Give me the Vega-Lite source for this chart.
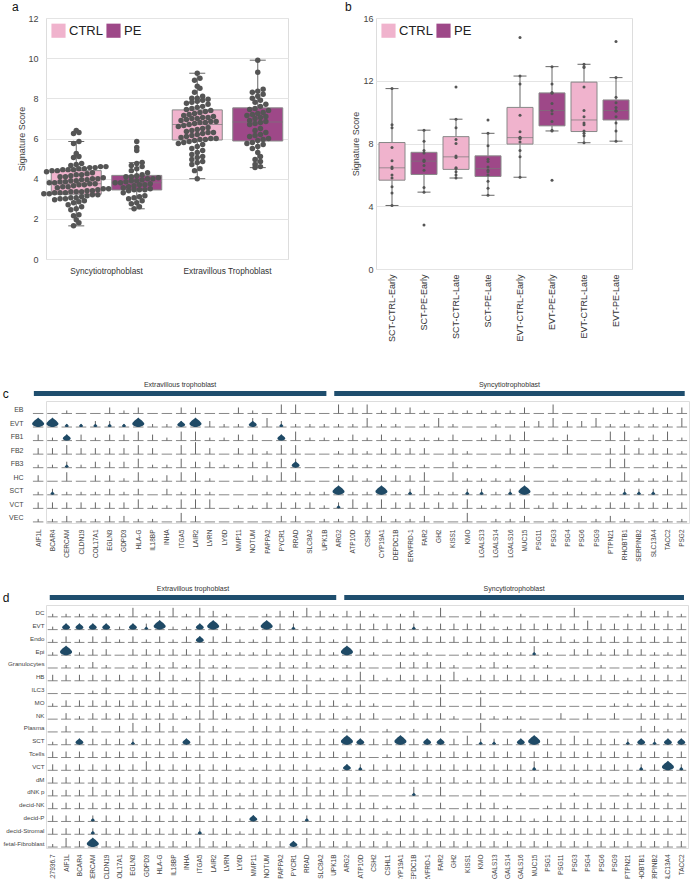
{
"$schema":"https://vega.github.io/schema/vega-lite/v6.json",
"background":"white",
"padding":{"left":2,"top":0,"right":0,"bottom":0},
"config":{"font":"Liberation Sans","view":{"stroke":"#dddddd"},
"axis":{"labelColor":"#444","titleColor":"#444","titleFontWeight":"normal","domain":false,"ticks":false,"gridColor":"#e4e4e4","labelFontSize":9,"titleFontSize":9},
"title":{"fontWeight":"normal","fontSize":12,"anchor":"start","color":"#111"}},
"datasets":{
"a":[
{"cell":"Syncytiotrophoblast","cond":"CTRL","v":6.4},{"cell":"Syncytiotrophoblast","cond":"CTRL","v":6.3},{"cell":"Syncytiotrophoblast","cond":"CTRL","v":6.25},{"cell":"Syncytiotrophoblast","cond":"CTRL","v":5.85},{"cell":"Syncytiotrophoblast","cond":"CTRL","v":5.75},{"cell":"Syncytiotrophoblast","cond":"CTRL","v":5.25},{"cell":"Syncytiotrophoblast","cond":"CTRL","v":5.1},{"cell":"Syncytiotrophoblast","cond":"CTRL","v":5.05},{"cell":"Syncytiotrophoblast","cond":"CTRL","v":4.75},{"cell":"Syncytiotrophoblast","cond":"CTRL","v":4.7},
{"cell":"Syncytiotrophoblast","cond":"CTRL","v":4.65},{"cell":"Syncytiotrophoblast","cond":"CTRL","v":4.6},{"cell":"Syncytiotrophoblast","cond":"CTRL","v":4.6},{"cell":"Syncytiotrophoblast","cond":"CTRL","v":4.55},{"cell":"Syncytiotrophoblast","cond":"CTRL","v":4.55},{"cell":"Syncytiotrophoblast","cond":"CTRL","v":4.5},{"cell":"Syncytiotrophoblast","cond":"CTRL","v":4.5},{"cell":"Syncytiotrophoblast","cond":"CTRL","v":4.45},{"cell":"Syncytiotrophoblast","cond":"CTRL","v":4.45},{"cell":"Syncytiotrophoblast","cond":"CTRL","v":4.45},
{"cell":"Syncytiotrophoblast","cond":"CTRL","v":4.4},{"cell":"Syncytiotrophoblast","cond":"CTRL","v":4.4},{"cell":"Syncytiotrophoblast","cond":"CTRL","v":4.35},{"cell":"Syncytiotrophoblast","cond":"CTRL","v":4.3},{"cell":"Syncytiotrophoblast","cond":"CTRL","v":4.25},{"cell":"Syncytiotrophoblast","cond":"CTRL","v":4.2},{"cell":"Syncytiotrophoblast","cond":"CTRL","v":4.2},{"cell":"Syncytiotrophoblast","cond":"CTRL","v":4.15},{"cell":"Syncytiotrophoblast","cond":"CTRL","v":4.1},{"cell":"Syncytiotrophoblast","cond":"CTRL","v":4.1},
{"cell":"Syncytiotrophoblast","cond":"CTRL","v":4.05},{"cell":"Syncytiotrophoblast","cond":"CTRL","v":4.0},{"cell":"Syncytiotrophoblast","cond":"CTRL","v":4.0},{"cell":"Syncytiotrophoblast","cond":"CTRL","v":3.95},{"cell":"Syncytiotrophoblast","cond":"CTRL","v":3.95},{"cell":"Syncytiotrophoblast","cond":"CTRL","v":3.9},{"cell":"Syncytiotrophoblast","cond":"CTRL","v":3.9},{"cell":"Syncytiotrophoblast","cond":"CTRL","v":3.85},{"cell":"Syncytiotrophoblast","cond":"CTRL","v":3.85},{"cell":"Syncytiotrophoblast","cond":"CTRL","v":3.8},
{"cell":"Syncytiotrophoblast","cond":"CTRL","v":3.8},{"cell":"Syncytiotrophoblast","cond":"CTRL","v":3.75},{"cell":"Syncytiotrophoblast","cond":"CTRL","v":3.75},{"cell":"Syncytiotrophoblast","cond":"CTRL","v":3.7},{"cell":"Syncytiotrophoblast","cond":"CTRL","v":3.7},{"cell":"Syncytiotrophoblast","cond":"CTRL","v":3.65},{"cell":"Syncytiotrophoblast","cond":"CTRL","v":3.6},{"cell":"Syncytiotrophoblast","cond":"CTRL","v":3.6},{"cell":"Syncytiotrophoblast","cond":"CTRL","v":3.55},{"cell":"Syncytiotrophoblast","cond":"CTRL","v":3.5},
{"cell":"Syncytiotrophoblast","cond":"CTRL","v":3.5},{"cell":"Syncytiotrophoblast","cond":"CTRL","v":3.45},{"cell":"Syncytiotrophoblast","cond":"CTRL","v":3.4},{"cell":"Syncytiotrophoblast","cond":"CTRL","v":3.4},{"cell":"Syncytiotrophoblast","cond":"CTRL","v":3.35},{"cell":"Syncytiotrophoblast","cond":"CTRL","v":3.35},{"cell":"Syncytiotrophoblast","cond":"CTRL","v":3.35},{"cell":"Syncytiotrophoblast","cond":"CTRL","v":3.3},{"cell":"Syncytiotrophoblast","cond":"CTRL","v":3.3},{"cell":"Syncytiotrophoblast","cond":"CTRL","v":3.3},
{"cell":"Syncytiotrophoblast","cond":"CTRL","v":3.25},{"cell":"Syncytiotrophoblast","cond":"CTRL","v":3.25},{"cell":"Syncytiotrophoblast","cond":"CTRL","v":3.2},{"cell":"Syncytiotrophoblast","cond":"CTRL","v":3.2},{"cell":"Syncytiotrophoblast","cond":"CTRL","v":3.15},{"cell":"Syncytiotrophoblast","cond":"CTRL","v":3.1},{"cell":"Syncytiotrophoblast","cond":"CTRL","v":3.05},{"cell":"Syncytiotrophoblast","cond":"CTRL","v":3.05},{"cell":"Syncytiotrophoblast","cond":"CTRL","v":3.0},{"cell":"Syncytiotrophoblast","cond":"CTRL","v":3.0},
{"cell":"Syncytiotrophoblast","cond":"CTRL","v":2.95},{"cell":"Syncytiotrophoblast","cond":"CTRL","v":2.9},{"cell":"Syncytiotrophoblast","cond":"CTRL","v":2.85},{"cell":"Syncytiotrophoblast","cond":"CTRL","v":2.8},{"cell":"Syncytiotrophoblast","cond":"CTRL","v":2.7},{"cell":"Syncytiotrophoblast","cond":"CTRL","v":2.6},{"cell":"Syncytiotrophoblast","cond":"CTRL","v":2.5},{"cell":"Syncytiotrophoblast","cond":"CTRL","v":2.45},{"cell":"Syncytiotrophoblast","cond":"CTRL","v":2.2},{"cell":"Syncytiotrophoblast","cond":"CTRL","v":2.15},
{"cell":"Syncytiotrophoblast","cond":"CTRL","v":1.95},{"cell":"Syncytiotrophoblast","cond":"CTRL","v":1.8},{"cell":"Syncytiotrophoblast","cond":"CTRL","v":1.65},
{"cell":"Syncytiotrophoblast","cond":"PE","v":5.85},{"cell":"Syncytiotrophoblast","cond":"PE","v":5.55},{"cell":"Syncytiotrophoblast","cond":"PE","v":5.4},{"cell":"Syncytiotrophoblast","cond":"PE","v":4.8},{"cell":"Syncytiotrophoblast","cond":"PE","v":4.75},{"cell":"Syncytiotrophoblast","cond":"PE","v":4.65},{"cell":"Syncytiotrophoblast","cond":"PE","v":4.6},{"cell":"Syncytiotrophoblast","cond":"PE","v":4.5},{"cell":"Syncytiotrophoblast","cond":"PE","v":4.4},{"cell":"Syncytiotrophoblast","cond":"PE","v":4.3},
{"cell":"Syncytiotrophoblast","cond":"PE","v":4.2},{"cell":"Syncytiotrophoblast","cond":"PE","v":4.15},{"cell":"Syncytiotrophoblast","cond":"PE","v":4.1},{"cell":"Syncytiotrophoblast","cond":"PE","v":4.1},{"cell":"Syncytiotrophoblast","cond":"PE","v":4.05},{"cell":"Syncytiotrophoblast","cond":"PE","v":4.0},{"cell":"Syncytiotrophoblast","cond":"PE","v":4.0},{"cell":"Syncytiotrophoblast","cond":"PE","v":3.95},{"cell":"Syncytiotrophoblast","cond":"PE","v":3.9},{"cell":"Syncytiotrophoblast","cond":"PE","v":3.9},
{"cell":"Syncytiotrophoblast","cond":"PE","v":3.85},{"cell":"Syncytiotrophoblast","cond":"PE","v":3.8},{"cell":"Syncytiotrophoblast","cond":"PE","v":3.8},{"cell":"Syncytiotrophoblast","cond":"PE","v":3.75},{"cell":"Syncytiotrophoblast","cond":"PE","v":3.7},{"cell":"Syncytiotrophoblast","cond":"PE","v":3.7},{"cell":"Syncytiotrophoblast","cond":"PE","v":3.65},{"cell":"Syncytiotrophoblast","cond":"PE","v":3.6},{"cell":"Syncytiotrophoblast","cond":"PE","v":3.55},{"cell":"Syncytiotrophoblast","cond":"PE","v":3.5},
{"cell":"Syncytiotrophoblast","cond":"PE","v":3.45},{"cell":"Syncytiotrophoblast","cond":"PE","v":3.45},{"cell":"Syncytiotrophoblast","cond":"PE","v":3.45},{"cell":"Syncytiotrophoblast","cond":"PE","v":3.4},{"cell":"Syncytiotrophoblast","cond":"PE","v":3.3},{"cell":"Syncytiotrophoblast","cond":"PE","v":3.15},{"cell":"Syncytiotrophoblast","cond":"PE","v":3.1},{"cell":"Syncytiotrophoblast","cond":"PE","v":3.05},{"cell":"Syncytiotrophoblast","cond":"PE","v":3.0},{"cell":"Syncytiotrophoblast","cond":"PE","v":2.9},
{"cell":"Syncytiotrophoblast","cond":"PE","v":2.8},{"cell":"Syncytiotrophoblast","cond":"PE","v":2.75},{"cell":"Syncytiotrophoblast","cond":"PE","v":2.6},{"cell":"Syncytiotrophoblast","cond":"PE","v":2.5},
{"cell":"Extravillous Trophoblast","cond":"CTRL","v":9.25},{"cell":"Extravillous Trophoblast","cond":"CTRL","v":9.0},{"cell":"Extravillous Trophoblast","cond":"CTRL","v":8.9},{"cell":"Extravillous Trophoblast","cond":"CTRL","v":8.6},{"cell":"Extravillous Trophoblast","cond":"CTRL","v":8.5},{"cell":"Extravillous Trophoblast","cond":"CTRL","v":8.3},{"cell":"Extravillous Trophoblast","cond":"CTRL","v":8.1},{"cell":"Extravillous Trophoblast","cond":"CTRL","v":8.0},{"cell":"Extravillous Trophoblast","cond":"CTRL","v":8.0},{"cell":"Extravillous Trophoblast","cond":"CTRL","v":7.95},
{"cell":"Extravillous Trophoblast","cond":"CTRL","v":7.9},{"cell":"Extravillous Trophoblast","cond":"CTRL","v":7.85},{"cell":"Extravillous Trophoblast","cond":"CTRL","v":7.8},{"cell":"Extravillous Trophoblast","cond":"CTRL","v":7.75},{"cell":"Extravillous Trophoblast","cond":"CTRL","v":7.7},{"cell":"Extravillous Trophoblast","cond":"CTRL","v":7.6},{"cell":"Extravillous Trophoblast","cond":"CTRL","v":7.55},{"cell":"Extravillous Trophoblast","cond":"CTRL","v":7.5},{"cell":"Extravillous Trophoblast","cond":"CTRL","v":7.45},{"cell":"Extravillous Trophoblast","cond":"CTRL","v":7.4},
{"cell":"Extravillous Trophoblast","cond":"CTRL","v":7.35},{"cell":"Extravillous Trophoblast","cond":"CTRL","v":7.3},{"cell":"Extravillous Trophoblast","cond":"CTRL","v":7.25},{"cell":"Extravillous Trophoblast","cond":"CTRL","v":7.2},{"cell":"Extravillous Trophoblast","cond":"CTRL","v":7.15},{"cell":"Extravillous Trophoblast","cond":"CTRL","v":7.1},{"cell":"Extravillous Trophoblast","cond":"CTRL","v":7.05},{"cell":"Extravillous Trophoblast","cond":"CTRL","v":7.05},{"cell":"Extravillous Trophoblast","cond":"CTRL","v":7.0},{"cell":"Extravillous Trophoblast","cond":"CTRL","v":7.0},
{"cell":"Extravillous Trophoblast","cond":"CTRL","v":6.95},{"cell":"Extravillous Trophoblast","cond":"CTRL","v":6.9},{"cell":"Extravillous Trophoblast","cond":"CTRL","v":6.85},{"cell":"Extravillous Trophoblast","cond":"CTRL","v":6.85},{"cell":"Extravillous Trophoblast","cond":"CTRL","v":6.8},{"cell":"Extravillous Trophoblast","cond":"CTRL","v":6.8},{"cell":"Extravillous Trophoblast","cond":"CTRL","v":6.75},{"cell":"Extravillous Trophoblast","cond":"CTRL","v":6.7},{"cell":"Extravillous Trophoblast","cond":"CTRL","v":6.65},{"cell":"Extravillous Trophoblast","cond":"CTRL","v":6.6},
{"cell":"Extravillous Trophoblast","cond":"CTRL","v":6.55},{"cell":"Extravillous Trophoblast","cond":"CTRL","v":6.5},{"cell":"Extravillous Trophoblast","cond":"CTRL","v":6.45},{"cell":"Extravillous Trophoblast","cond":"CTRL","v":6.4},{"cell":"Extravillous Trophoblast","cond":"CTRL","v":6.35},{"cell":"Extravillous Trophoblast","cond":"CTRL","v":6.3},{"cell":"Extravillous Trophoblast","cond":"CTRL","v":6.3},{"cell":"Extravillous Trophoblast","cond":"CTRL","v":6.25},{"cell":"Extravillous Trophoblast","cond":"CTRL","v":6.2},{"cell":"Extravillous Trophoblast","cond":"CTRL","v":6.15},
{"cell":"Extravillous Trophoblast","cond":"CTRL","v":6.1},{"cell":"Extravillous Trophoblast","cond":"CTRL","v":6.05},{"cell":"Extravillous Trophoblast","cond":"CTRL","v":6.0},{"cell":"Extravillous Trophoblast","cond":"CTRL","v":6.0},{"cell":"Extravillous Trophoblast","cond":"CTRL","v":5.95},{"cell":"Extravillous Trophoblast","cond":"CTRL","v":5.95},{"cell":"Extravillous Trophoblast","cond":"CTRL","v":5.9},{"cell":"Extravillous Trophoblast","cond":"CTRL","v":5.85},{"cell":"Extravillous Trophoblast","cond":"CTRL","v":5.8},{"cell":"Extravillous Trophoblast","cond":"CTRL","v":5.75},
{"cell":"Extravillous Trophoblast","cond":"CTRL","v":5.7},{"cell":"Extravillous Trophoblast","cond":"CTRL","v":5.6},{"cell":"Extravillous Trophoblast","cond":"CTRL","v":5.5},{"cell":"Extravillous Trophoblast","cond":"CTRL","v":5.4},{"cell":"Extravillous Trophoblast","cond":"CTRL","v":5.3},{"cell":"Extravillous Trophoblast","cond":"CTRL","v":5.2},{"cell":"Extravillous Trophoblast","cond":"CTRL","v":5.1},{"cell":"Extravillous Trophoblast","cond":"CTRL","v":5.05},{"cell":"Extravillous Trophoblast","cond":"CTRL","v":4.95},{"cell":"Extravillous Trophoblast","cond":"CTRL","v":4.85},
{"cell":"Extravillous Trophoblast","cond":"CTRL","v":4.8},{"cell":"Extravillous Trophoblast","cond":"CTRL","v":4.7},{"cell":"Extravillous Trophoblast","cond":"CTRL","v":4.5},{"cell":"Extravillous Trophoblast","cond":"CTRL","v":4.4},{"cell":"Extravillous Trophoblast","cond":"CTRL","v":4.0},
{"cell":"Extravillous Trophoblast","cond":"PE","v":9.9},{"cell":"Extravillous Trophoblast","cond":"PE","v":9.3},{"cell":"Extravillous Trophoblast","cond":"PE","v":8.45},{"cell":"Extravillous Trophoblast","cond":"PE","v":8.35},{"cell":"Extravillous Trophoblast","cond":"PE","v":8.3},{"cell":"Extravillous Trophoblast","cond":"PE","v":8.2},{"cell":"Extravillous Trophoblast","cond":"PE","v":8.1},{"cell":"Extravillous Trophoblast","cond":"PE","v":8.0},{"cell":"Extravillous Trophoblast","cond":"PE","v":7.9},{"cell":"Extravillous Trophoblast","cond":"PE","v":7.8},
{"cell":"Extravillous Trophoblast","cond":"PE","v":7.7},{"cell":"Extravillous Trophoblast","cond":"PE","v":7.6},{"cell":"Extravillous Trophoblast","cond":"PE","v":7.5},{"cell":"Extravillous Trophoblast","cond":"PE","v":7.45},{"cell":"Extravillous Trophoblast","cond":"PE","v":7.4},{"cell":"Extravillous Trophoblast","cond":"PE","v":7.3},{"cell":"Extravillous Trophoblast","cond":"PE","v":7.25},{"cell":"Extravillous Trophoblast","cond":"PE","v":7.2},{"cell":"Extravillous Trophoblast","cond":"PE","v":7.15},{"cell":"Extravillous Trophoblast","cond":"PE","v":7.1},
{"cell":"Extravillous Trophoblast","cond":"PE","v":7.05},{"cell":"Extravillous Trophoblast","cond":"PE","v":7.0},{"cell":"Extravillous Trophoblast","cond":"PE","v":6.9},{"cell":"Extravillous Trophoblast","cond":"PE","v":6.85},{"cell":"Extravillous Trophoblast","cond":"PE","v":6.8},{"cell":"Extravillous Trophoblast","cond":"PE","v":6.75},{"cell":"Extravillous Trophoblast","cond":"PE","v":6.7},{"cell":"Extravillous Trophoblast","cond":"PE","v":6.5},{"cell":"Extravillous Trophoblast","cond":"PE","v":6.4},{"cell":"Extravillous Trophoblast","cond":"PE","v":6.3},
{"cell":"Extravillous Trophoblast","cond":"PE","v":6.2},{"cell":"Extravillous Trophoblast","cond":"PE","v":6.15},{"cell":"Extravillous Trophoblast","cond":"PE","v":6.1},{"cell":"Extravillous Trophoblast","cond":"PE","v":6.0},{"cell":"Extravillous Trophoblast","cond":"PE","v":5.95},{"cell":"Extravillous Trophoblast","cond":"PE","v":5.9},{"cell":"Extravillous Trophoblast","cond":"PE","v":5.8},{"cell":"Extravillous Trophoblast","cond":"PE","v":5.75},{"cell":"Extravillous Trophoblast","cond":"PE","v":5.7},{"cell":"Extravillous Trophoblast","cond":"PE","v":5.6},
{"cell":"Extravillous Trophoblast","cond":"PE","v":5.5},{"cell":"Extravillous Trophoblast","cond":"PE","v":5.3},{"cell":"Extravillous Trophoblast","cond":"PE","v":5.1},{"cell":"Extravillous Trophoblast","cond":"PE","v":4.95},{"cell":"Extravillous Trophoblast","cond":"PE","v":4.85},{"cell":"Extravillous Trophoblast","cond":"PE","v":4.7},{"cell":"Extravillous Trophoblast","cond":"PE","v":4.6},{"cell":"Extravillous Trophoblast","cond":"PE","v":4.55}
],
"b":[
{"g":"SCT-CTRL-Early","cond":"CTRL","v":11.5},{"g":"SCT-CTRL-Early","cond":"CTRL","v":9.2},{"g":"SCT-CTRL-Early","cond":"CTRL","v":9.0},{"g":"SCT-CTRL-Early","cond":"CTRL","v":7.75},{"g":"SCT-CTRL-Early","cond":"CTRL","v":6.9},{"g":"SCT-CTRL-Early","cond":"CTRL","v":6.5},{"g":"SCT-CTRL-Early","cond":"CTRL","v":6.4},{"g":"SCT-CTRL-Early","cond":"CTRL","v":6.0},{"g":"SCT-CTRL-Early","cond":"CTRL","v":5.8},{"g":"SCT-CTRL-Early","cond":"CTRL","v":5.25},{"g":"SCT-CTRL-Early","cond":"CTRL","v":4.85},{"g":"SCT-CTRL-Early","cond":"CTRL","v":4.05},
{"g":"SCT-PE-Early","cond":"PE","v":8.85},{"g":"SCT-PE-Early","cond":"PE","v":8.15},{"g":"SCT-PE-Early","cond":"PE","v":7.55},{"g":"SCT-PE-Early","cond":"PE","v":7.4},{"g":"SCT-PE-Early","cond":"PE","v":6.95},{"g":"SCT-PE-Early","cond":"PE","v":6.9},{"g":"SCT-PE-Early","cond":"PE","v":6.85},{"g":"SCT-PE-Early","cond":"PE","v":6.6},{"g":"SCT-PE-Early","cond":"PE","v":6.3},{"g":"SCT-PE-Early","cond":"PE","v":5.2},{"g":"SCT-PE-Early","cond":"PE","v":4.9},{"g":"SCT-PE-Early","cond":"PE","v":2.8},
{"g":"SCT-CTRL-Late","cond":"CTRL","v":11.6},{"g":"SCT-CTRL-Late","cond":"CTRL","v":9.55},{"g":"SCT-CTRL-Late","cond":"CTRL","v":9.0},{"g":"SCT-CTRL-Late","cond":"CTRL","v":8.25},{"g":"SCT-CTRL-Late","cond":"CTRL","v":8.0},{"g":"SCT-CTRL-Late","cond":"CTRL","v":7.2},{"g":"SCT-CTRL-Late","cond":"CTRL","v":7.1},{"g":"SCT-CTRL-Late","cond":"CTRL","v":6.45},{"g":"SCT-CTRL-Late","cond":"CTRL","v":6.4},{"g":"SCT-CTRL-Late","cond":"CTRL","v":6.2},{"g":"SCT-CTRL-Late","cond":"CTRL","v":6.0},{"g":"SCT-CTRL-Late","cond":"CTRL","v":5.8},
{"g":"SCT-PE-Late","cond":"PE","v":9.5},{"g":"SCT-PE-Late","cond":"PE","v":8.65},{"g":"SCT-PE-Late","cond":"PE","v":7.85},{"g":"SCT-PE-Late","cond":"PE","v":7.0},{"g":"SCT-PE-Late","cond":"PE","v":6.85},{"g":"SCT-PE-Late","cond":"PE","v":6.5},{"g":"SCT-PE-Late","cond":"PE","v":6.3},{"g":"SCT-PE-Late","cond":"PE","v":6.2},{"g":"SCT-PE-Late","cond":"PE","v":6.0},{"g":"SCT-PE-Late","cond":"PE","v":5.6},{"g":"SCT-PE-Late","cond":"PE","v":5.15},{"g":"SCT-PE-Late","cond":"PE","v":4.7},
{"g":"EVT-CTRL-Early","cond":"CTRL","v":14.75},{"g":"EVT-CTRL-Early","cond":"CTRL","v":12.3},{"g":"EVT-CTRL-Early","cond":"CTRL","v":11.8},{"g":"EVT-CTRL-Early","cond":"CTRL","v":9.8},{"g":"EVT-CTRL-Early","cond":"CTRL","v":8.75},{"g":"EVT-CTRL-Early","cond":"CTRL","v":8.4},{"g":"EVT-CTRL-Early","cond":"CTRL","v":8.35},{"g":"EVT-CTRL-Early","cond":"CTRL","v":8.3},{"g":"EVT-CTRL-Early","cond":"CTRL","v":8.1},{"g":"EVT-CTRL-Early","cond":"CTRL","v":7.55},{"g":"EVT-CTRL-Early","cond":"CTRL","v":7.15},{"g":"EVT-CTRL-Early","cond":"CTRL","v":5.85},
{"g":"EVT-PE-Early","cond":"PE","v":12.9},{"g":"EVT-PE-Early","cond":"PE","v":11.8},{"g":"EVT-PE-Early","cond":"PE","v":11.25},{"g":"EVT-PE-Early","cond":"PE","v":11.2},{"g":"EVT-PE-Early","cond":"PE","v":10.55},{"g":"EVT-PE-Early","cond":"PE","v":10.1},{"g":"EVT-PE-Early","cond":"PE","v":9.9},{"g":"EVT-PE-Early","cond":"PE","v":9.4},{"g":"EVT-PE-Early","cond":"PE","v":8.85},{"g":"EVT-PE-Early","cond":"PE","v":8.8},{"g":"EVT-PE-Early","cond":"PE","v":5.65},
{"g":"EVT-CTRL-Late","cond":"CTRL","v":13.05},{"g":"EVT-CTRL-Late","cond":"CTRL","v":12.9},{"g":"EVT-CTRL-Late","cond":"CTRL","v":12.85},{"g":"EVT-CTRL-Late","cond":"CTRL","v":11.6},{"g":"EVT-CTRL-Late","cond":"CTRL","v":10.1},{"g":"EVT-CTRL-Late","cond":"CTRL","v":9.7},{"g":"EVT-CTRL-Late","cond":"CTRL","v":9.3},{"g":"EVT-CTRL-Late","cond":"CTRL","v":9.2},{"g":"EVT-CTRL-Late","cond":"CTRL","v":8.8},{"g":"EVT-CTRL-Late","cond":"CTRL","v":8.65},{"g":"EVT-CTRL-Late","cond":"CTRL","v":8.5},{"g":"EVT-CTRL-Late","cond":"CTRL","v":8.05},
{"g":"EVT-PE-Late","cond":"PE","v":14.5},{"g":"EVT-PE-Late","cond":"PE","v":12.2},{"g":"EVT-PE-Late","cond":"PE","v":10.95},{"g":"EVT-PE-Late","cond":"PE","v":10.6},{"g":"EVT-PE-Late","cond":"PE","v":10.3},{"g":"EVT-PE-Late","cond":"PE","v":10.1},{"g":"EVT-PE-Late","cond":"PE","v":10.05},{"g":"EVT-PE-Late","cond":"PE","v":9.7},{"g":"EVT-PE-Late","cond":"PE","v":9.3},{"g":"EVT-PE-Late","cond":"PE","v":8.8},{"g":"EVT-PE-Late","cond":"PE","v":8.15}
],
"chead":[{"label":"Extravillous trophoblast","start":-0.3,"end":20.15},{"label":"Syncytiotrophoblast","start":20.7,"end":45.2}],
"dhead":[{"label":"Extravillous trophoblast","start":-0.22,"end":21.2},{"label":"Syncytiotrophoblast","start":21.8,"end":47.2}],
"c":[
{"g":"AIF1L","c":"EB","h":0},{"g":"BCAR4","c":"EB","h":0},{"g":"CERCAM","c":"EB","h":1},{"g":"CLDN19","c":"EB","h":0},{"g":"COL17A1","c":"EB","h":0},{"g":"EGLN3","c":"EB","h":2},{"g":"GDPD3","c":"EB","h":1},{"g":"HLA-G","c":"EB","h":2},{"g":"IL18BP","c":"EB","h":0},{"g":"INHA","c":"EB","h":0},{"g":"ITGA5","c":"EB","h":2},{"g":"LAIR2","c":"EB","h":2},{"g":"LVRN","c":"EB","h":0},{"g":"LY6D","c":"EB","h":0},{"g":"MMP11","c":"EB","h":2},{"g":"NOTUM","c":"EB","h":1},{"g":"PAPPA2","c":"EB","h":0},{"g":"PYCR1","c":"EB","h":3},{"g":"RRAD","c":"EB","h":3},{"g":"SLC8A2","c":"EB","h":0},{"g":"UPK1B","c":"EB","h":0},{"g":"ARG2","c":"EB","h":3},{"g":"ATP10D","c":"EB","h":2},{"g":"CSH2","c":"EB","h":3},{"g":"CYP19A1","c":"EB","h":1},{"g":"DEPDC1B","c":"EB","h":2},{"g":"ERVFRD-1","c":"EB","h":2},{"g":"FAR2","c":"EB","h":1},{"g":"GH2","c":"EB","h":0},{"g":"KISS1","c":"EB","h":1},{"g":"KMO","c":"EB","h":1},{"g":"LGALS13","c":"EB","h":1},{"g":"LGALS14","c":"EB","h":1},{"g":"LGALS16","c":"EB","h":1},{"g":"MUC15","c":"EB","h":2},{"g":"PSG11","c":"EB","h":0},{"g":"PSG3","c":"EB","h":3},{"g":"PSG4","c":"EB","h":0},{"g":"PSG6","c":"EB","h":0},{"g":"PSG9","c":"EB","h":0},{"g":"PTPN21","c":"EB","h":0},{"g":"RHOBTB1","c":"EB","h":1},{"g":"SERPINB2","c":"EB","h":1},{"g":"SLC13A4","c":"EB","h":2},{"g":"TACC2","c":"EB","h":2},{"g":"PSG2","c":"EB","h":2},
{"g":"AIF1L","c":"EVT","h":1,"b":3},{"g":"BCAR4","c":"EVT","h":1,"b":3},{"g":"CERCAM","c":"EVT","h":1,"b":1},{"g":"CLDN19","c":"EVT","h":1,"b":1},{"g":"COL17A1","c":"EVT","h":2,"b":1},{"g":"EGLN3","c":"EVT","h":2,"b":1},{"g":"GDPD3","c":"EVT","h":1,"b":1},{"g":"HLA-G","c":"EVT","h":3,"b":3},{"g":"IL18BP","c":"EVT","h":1},{"g":"INHA","c":"EVT","h":1},{"g":"ITGA5","c":"EVT","h":2,"b":2},{"g":"LAIR2","c":"EVT","h":3,"b":3},{"g":"LVRN","c":"EVT","h":2},{"g":"LY6D","c":"EVT","h":1},{"g":"MMP11","c":"EVT","h":1},{"g":"NOTUM","c":"EVT","h":3,"b":2},{"g":"PAPPA2","c":"EVT","h":3},{"g":"PYCR1","c":"EVT","h":2,"b":1},{"g":"RRAD","c":"EVT","h":1},{"g":"SLC8A2","c":"EVT","h":1},{"g":"UPK1B","c":"EVT","h":1},{"g":"ARG2","c":"EVT","h":1},{"g":"ATP10D","c":"EVT","h":1},{"g":"CSH2","c":"EVT","h":3},{"g":"CYP19A1","c":"EVT","h":1},{"g":"DEPDC1B","c":"EVT","h":1},{"g":"ERVFRD-1","c":"EVT","h":0},{"g":"FAR2","c":"EVT","h":1},{"g":"GH2","c":"EVT","h":3},{"g":"KISS1","c":"EVT","h":1},{"g":"KMO","c":"EVT","h":0},{"g":"LGALS13","c":"EVT","h":0},{"g":"LGALS14","c":"EVT","h":1},{"g":"LGALS16","c":"EVT","h":0},{"g":"MUC15","c":"EVT","h":2},{"g":"PSG11","c":"EVT","h":2},{"g":"PSG3","c":"EVT","h":3},{"g":"PSG4","c":"EVT","h":2},{"g":"PSG6","c":"EVT","h":2},{"g":"PSG9","c":"EVT","h":3},{"g":"PTPN21","c":"EVT","h":1},{"g":"RHOBTB1","c":"EVT","h":1},{"g":"SERPINB2","c":"EVT","h":1},{"g":"SLC13A4","c":"EVT","h":1},{"g":"TACC2","c":"EVT","h":1},{"g":"PSG2","c":"EVT","h":3},
{"g":"AIF1L","c":"FB1","h":2},{"g":"BCAR4","c":"FB1","h":1},{"g":"CERCAM","c":"FB1","h":2,"b":2},{"g":"CLDN19","c":"FB1","h":2},{"g":"COL17A1","c":"FB1","h":1},{"g":"EGLN3","c":"FB1","h":2},{"g":"GDPD3","c":"FB1","h":2},{"g":"HLA-G","c":"FB1","h":3},{"g":"IL18BP","c":"FB1","h":2},{"g":"INHA","c":"FB1","h":1},{"g":"ITGA5","c":"FB1","h":3},{"g":"LAIR2","c":"FB1","h":3},{"g":"LVRN","c":"FB1","h":1},{"g":"LY6D","c":"FB1","h":1},{"g":"MMP11","c":"FB1","h":2},{"g":"NOTUM","c":"FB1","h":2},{"g":"PAPPA2","c":"FB1","h":0},{"g":"PYCR1","c":"FB1","h":2,"b":2},{"g":"RRAD","c":"FB1","h":3},{"g":"SLC8A2","c":"FB1","h":1},{"g":"UPK1B","c":"FB1","h":1},{"g":"ARG2","c":"FB1","h":1},{"g":"ATP10D","c":"FB1","h":2},{"g":"CSH2","c":"FB1","h":1},{"g":"CYP19A1","c":"FB1","h":2},{"g":"DEPDC1B","c":"FB1","h":1},{"g":"ERVFRD-1","c":"FB1","h":1},{"g":"FAR2","c":"FB1","h":1},{"g":"GH2","c":"FB1","h":1},{"g":"KISS1","c":"FB1","h":2},{"g":"KMO","c":"FB1","h":0},{"g":"LGALS13","c":"FB1","h":1},{"g":"LGALS14","c":"FB1","h":2},{"g":"LGALS16","c":"FB1","h":2},{"g":"MUC15","c":"FB1","h":3},{"g":"PSG11","c":"FB1","h":0},{"g":"PSG3","c":"FB1","h":1},{"g":"PSG4","c":"FB1","h":2},{"g":"PSG6","c":"FB1","h":0},{"g":"PSG9","c":"FB1","h":0},{"g":"PTPN21","c":"FB1","h":3},{"g":"RHOBTB1","c":"FB1","h":3},{"g":"SERPINB2","c":"FB1","h":1},{"g":"SLC13A4","c":"FB1","h":2},{"g":"TACC2","c":"FB1","h":3},{"g":"PSG2","c":"FB1","h":1},
{"g":"AIF1L","c":"FB2","h":2},{"g":"BCAR4","c":"FB2","h":2},{"g":"CERCAM","c":"FB2","h":3},{"g":"CLDN19","c":"FB2","h":2},{"g":"COL17A1","c":"FB2","h":2},{"g":"EGLN3","c":"FB2","h":2},{"g":"GDPD3","c":"FB2","h":2},{"g":"HLA-G","c":"FB2","h":3},{"g":"IL18BP","c":"FB2","h":2},{"g":"INHA","c":"FB2","h":0},{"g":"ITGA5","c":"FB2","h":3},{"g":"LAIR2","c":"FB2","h":4},{"g":"LVRN","c":"FB2","h":2},{"g":"LY6D","c":"FB2","h":0},{"g":"MMP11","c":"FB2","h":2},{"g":"NOTUM","c":"FB2","h":2},{"g":"PAPPA2","c":"FB2","h":1},{"g":"PYCR1","c":"FB2","h":3},{"g":"RRAD","c":"FB2","h":3},{"g":"SLC8A2","c":"FB2","h":0},{"g":"UPK1B","c":"FB2","h":0},{"g":"ARG2","c":"FB2","h":1},{"g":"ATP10D","c":"FB2","h":2},{"g":"CSH2","c":"FB2","h":1},{"g":"CYP19A1","c":"FB2","h":2},{"g":"DEPDC1B","c":"FB2","h":2},{"g":"ERVFRD-1","c":"FB2","h":2},{"g":"FAR2","c":"FB2","h":2},{"g":"GH2","c":"FB2","h":0},{"g":"KISS1","c":"FB2","h":2},{"g":"KMO","c":"FB2","h":1},{"g":"LGALS13","c":"FB2","h":0},{"g":"LGALS14","c":"FB2","h":0},{"g":"LGALS16","c":"FB2","h":2},{"g":"MUC15","c":"FB2","h":2},{"g":"PSG11","c":"FB2","h":0},{"g":"PSG3","c":"FB2","h":0},{"g":"PSG4","c":"FB2","h":3},{"g":"PSG6","c":"FB2","h":0},{"g":"PSG9","c":"FB2","h":0},{"g":"PTPN21","c":"FB2","h":2},{"g":"RHOBTB1","c":"FB2","h":3},{"g":"SERPINB2","c":"FB2","h":2},{"g":"SLC13A4","c":"FB2","h":2},{"g":"TACC2","c":"FB2","h":2},{"g":"PSG2","c":"FB2","h":1},
{"g":"AIF1L","c":"FB3","h":1},{"g":"BCAR4","c":"FB3","h":1},{"g":"CERCAM","c":"FB3","h":2,"b":1},{"g":"CLDN19","c":"FB3","h":1},{"g":"COL17A1","c":"FB3","h":2},{"g":"EGLN3","c":"FB3","h":2},{"g":"GDPD3","c":"FB3","h":2},{"g":"HLA-G","c":"FB3","h":3},{"g":"IL18BP","c":"FB3","h":1},{"g":"INHA","c":"FB3","h":1},{"g":"ITGA5","c":"FB3","h":3},{"g":"LAIR2","c":"FB3","h":2},{"g":"LVRN","c":"FB3","h":2},{"g":"LY6D","c":"FB3","h":1},{"g":"MMP11","c":"FB3","h":1},{"g":"NOTUM","c":"FB3","h":2},{"g":"PAPPA2","c":"FB3","h":2},{"g":"PYCR1","c":"FB3","h":3},{"g":"RRAD","c":"FB3","h":3,"b":2},{"g":"SLC8A2","c":"FB3","h":0},{"g":"UPK1B","c":"FB3","h":0},{"g":"ARG2","c":"FB3","h":1},{"g":"ATP10D","c":"FB3","h":1},{"g":"CSH2","c":"FB3","h":1},{"g":"CYP19A1","c":"FB3","h":1},{"g":"DEPDC1B","c":"FB3","h":1},{"g":"ERVFRD-1","c":"FB3","h":0},{"g":"FAR2","c":"FB3","h":1},{"g":"GH2","c":"FB3","h":0},{"g":"KISS1","c":"FB3","h":2},{"g":"KMO","c":"FB3","h":1},{"g":"LGALS13","c":"FB3","h":0},{"g":"LGALS14","c":"FB3","h":1},{"g":"LGALS16","c":"FB3","h":0},{"g":"MUC15","c":"FB3","h":2},{"g":"PSG11","c":"FB3","h":0},{"g":"PSG3","c":"FB3","h":1},{"g":"PSG4","c":"FB3","h":0},{"g":"PSG6","c":"FB3","h":0},{"g":"PSG9","c":"FB3","h":0},{"g":"PTPN21","c":"FB3","h":3},{"g":"RHOBTB1","c":"FB3","h":3},{"g":"SERPINB2","c":"FB3","h":0},{"g":"SLC13A4","c":"FB3","h":1},{"g":"TACC2","c":"FB3","h":2},{"g":"PSG2","c":"FB3","h":1},
{"g":"AIF1L","c":"HC","h":2},{"g":"BCAR4","c":"HC","h":0},{"g":"CERCAM","c":"HC","h":3},{"g":"CLDN19","c":"HC","h":0},{"g":"COL17A1","c":"HC","h":2},{"g":"EGLN3","c":"HC","h":2},{"g":"GDPD3","c":"HC","h":1},{"g":"HLA-G","c":"HC","h":3},{"g":"IL18BP","c":"HC","h":1},{"g":"INHA","c":"HC","h":2},{"g":"ITGA5","c":"HC","h":3},{"g":"LAIR2","c":"HC","h":3},{"g":"LVRN","c":"HC","h":1},{"g":"LY6D","c":"HC","h":0},{"g":"MMP11","c":"HC","h":0},{"g":"NOTUM","c":"HC","h":2},{"g":"PAPPA2","c":"HC","h":2},{"g":"PYCR1","c":"HC","h":3},{"g":"RRAD","c":"HC","h":3},{"g":"SLC8A2","c":"HC","h":0},{"g":"UPK1B","c":"HC","h":0},{"g":"ARG2","c":"HC","h":2},{"g":"ATP10D","c":"HC","h":2},{"g":"CSH2","c":"HC","h":1},{"g":"CYP19A1","c":"HC","h":2},{"g":"DEPDC1B","c":"HC","h":2},{"g":"ERVFRD-1","c":"HC","h":2},{"g":"FAR2","c":"HC","h":3},{"g":"GH2","c":"HC","h":0},{"g":"KISS1","c":"HC","h":3},{"g":"KMO","c":"HC","h":1},{"g":"LGALS13","c":"HC","h":1},{"g":"LGALS14","c":"HC","h":1},{"g":"LGALS16","c":"HC","h":1},{"g":"MUC15","c":"HC","h":2},{"g":"PSG11","c":"HC","h":0},{"g":"PSG3","c":"HC","h":0},{"g":"PSG4","c":"HC","h":1},{"g":"PSG6","c":"HC","h":0},{"g":"PSG9","c":"HC","h":1},{"g":"PTPN21","c":"HC","h":1},{"g":"RHOBTB1","c":"HC","h":3},{"g":"SERPINB2","c":"HC","h":1},{"g":"SLC13A4","c":"HC","h":1},{"g":"TACC2","c":"HC","h":2},{"g":"PSG2","c":"HC","h":3},
{"g":"AIF1L","c":"SCT","h":1},{"g":"BCAR4","c":"SCT","h":2,"b":1},{"g":"CERCAM","c":"SCT","h":1},{"g":"CLDN19","c":"SCT","h":1},{"g":"COL17A1","c":"SCT","h":1},{"g":"EGLN3","c":"SCT","h":2},{"g":"GDPD3","c":"SCT","h":1},{"g":"HLA-G","c":"SCT","h":2},{"g":"IL18BP","c":"SCT","h":0},{"g":"INHA","c":"SCT","h":2},{"g":"ITGA5","c":"SCT","h":1},{"g":"LAIR2","c":"SCT","h":2},{"g":"LVRN","c":"SCT","h":1},{"g":"LY6D","c":"SCT","h":0},{"g":"MMP11","c":"SCT","h":0},{"g":"NOTUM","c":"SCT","h":0},{"g":"PAPPA2","c":"SCT","h":1},{"g":"PYCR1","c":"SCT","h":1},{"g":"RRAD","c":"SCT","h":1},{"g":"SLC8A2","c":"SCT","h":1},{"g":"UPK1B","c":"SCT","h":1},{"g":"ARG2","c":"SCT","h":2,"b":3},{"g":"ATP10D","c":"SCT","h":1},{"g":"CSH2","c":"SCT","h":1},{"g":"CYP19A1","c":"SCT","h":2,"b":3},{"g":"DEPDC1B","c":"SCT","h":1},{"g":"ERVFRD-1","c":"SCT","h":2,"b":1},{"g":"FAR2","c":"SCT","h":3},{"g":"GH2","c":"SCT","h":1},{"g":"KISS1","c":"SCT","h":1},{"g":"KMO","c":"SCT","h":2,"b":1},{"g":"LGALS13","c":"SCT","h":2,"b":1},{"g":"LGALS14","c":"SCT","h":1},{"g":"LGALS16","c":"SCT","h":2,"b":1},{"g":"MUC15","c":"SCT","h":2,"b":3},{"g":"PSG11","c":"SCT","h":0},{"g":"PSG3","c":"SCT","h":1},{"g":"PSG4","c":"SCT","h":1},{"g":"PSG6","c":"SCT","h":1},{"g":"PSG9","c":"SCT","h":1},{"g":"PTPN21","c":"SCT","h":1},{"g":"RHOBTB1","c":"SCT","h":2,"b":1},{"g":"SERPINB2","c":"SCT","h":2,"b":1},{"g":"SLC13A4","c":"SCT","h":2,"b":1},{"g":"TACC2","c":"SCT","h":2},{"g":"PSG2","c":"SCT","h":2},
{"g":"AIF1L","c":"VCT","h":2},{"g":"BCAR4","c":"VCT","h":2},{"g":"CERCAM","c":"VCT","h":2},{"g":"CLDN19","c":"VCT","h":2},{"g":"COL17A1","c":"VCT","h":2},{"g":"EGLN3","c":"VCT","h":2},{"g":"GDPD3","c":"VCT","h":2},{"g":"HLA-G","c":"VCT","h":3},{"g":"IL18BP","c":"VCT","h":1},{"g":"INHA","c":"VCT","h":1},{"g":"ITGA5","c":"VCT","h":3},{"g":"LAIR2","c":"VCT","h":3},{"g":"LVRN","c":"VCT","h":3},{"g":"LY6D","c":"VCT","h":0},{"g":"MMP11","c":"VCT","h":1},{"g":"NOTUM","c":"VCT","h":1},{"g":"PAPPA2","c":"VCT","h":2},{"g":"PYCR1","c":"VCT","h":2},{"g":"RRAD","c":"VCT","h":2},{"g":"SLC8A2","c":"VCT","h":2},{"g":"UPK1B","c":"VCT","h":1},{"g":"ARG2","c":"VCT","h":2,"b":1},{"g":"ATP10D","c":"VCT","h":3},{"g":"CSH2","c":"VCT","h":2},{"g":"CYP19A1","c":"VCT","h":3},{"g":"DEPDC1B","c":"VCT","h":2},{"g":"ERVFRD-1","c":"VCT","h":2},{"g":"FAR2","c":"VCT","h":2},{"g":"GH2","c":"VCT","h":2},{"g":"KISS1","c":"VCT","h":2},{"g":"KMO","c":"VCT","h":3},{"g":"LGALS13","c":"VCT","h":1},{"g":"LGALS14","c":"VCT","h":1},{"g":"LGALS16","c":"VCT","h":2},{"g":"MUC15","c":"VCT","h":3},{"g":"PSG11","c":"VCT","h":1},{"g":"PSG3","c":"VCT","h":2},{"g":"PSG4","c":"VCT","h":2},{"g":"PSG6","c":"VCT","h":1},{"g":"PSG9","c":"VCT","h":1},{"g":"PTPN21","c":"VCT","h":2},{"g":"RHOBTB1","c":"VCT","h":2},{"g":"SERPINB2","c":"VCT","h":2},{"g":"SLC13A4","c":"VCT","h":2},{"g":"TACC2","c":"VCT","h":2},{"g":"PSG2","c":"VCT","h":2},
{"g":"AIF1L","c":"VEC","h":1},{"g":"BCAR4","c":"VEC","h":1},{"g":"CERCAM","c":"VEC","h":2},{"g":"CLDN19","c":"VEC","h":1},{"g":"COL17A1","c":"VEC","h":1},{"g":"EGLN3","c":"VEC","h":2},{"g":"GDPD3","c":"VEC","h":2},{"g":"HLA-G","c":"VEC","h":1},{"g":"IL18BP","c":"VEC","h":1},{"g":"INHA","c":"VEC","h":0},{"g":"ITGA5","c":"VEC","h":3},{"g":"LAIR2","c":"VEC","h":2},{"g":"LVRN","c":"VEC","h":0},{"g":"LY6D","c":"VEC","h":0},{"g":"MMP11","c":"VEC","h":0},{"g":"NOTUM","c":"VEC","h":0},{"g":"PAPPA2","c":"VEC","h":0},{"g":"PYCR1","c":"VEC","h":2},{"g":"RRAD","c":"VEC","h":2},{"g":"SLC8A2","c":"VEC","h":0},{"g":"UPK1B","c":"VEC","h":1},{"g":"ARG2","c":"VEC","h":1},{"g":"ATP10D","c":"VEC","h":2},{"g":"CSH2","c":"VEC","h":2},{"g":"CYP19A1","c":"VEC","h":2},{"g":"DEPDC1B","c":"VEC","h":1},{"g":"ERVFRD-1","c":"VEC","h":1},{"g":"FAR2","c":"VEC","h":2},{"g":"GH2","c":"VEC","h":0},{"g":"KISS1","c":"VEC","h":0},{"g":"KMO","c":"VEC","h":3},{"g":"LGALS13","c":"VEC","h":0},{"g":"LGALS14","c":"VEC","h":1},{"g":"LGALS16","c":"VEC","h":1},{"g":"MUC15","c":"VEC","h":2},{"g":"PSG11","c":"VEC","h":0},{"g":"PSG3","c":"VEC","h":1},{"g":"PSG4","c":"VEC","h":1},{"g":"PSG6","c":"VEC","h":0},{"g":"PSG9","c":"VEC","h":1},{"g":"PTPN21","c":"VEC","h":2},{"g":"RHOBTB1","c":"VEC","h":1},{"g":"SERPINB2","c":"VEC","h":0},{"g":"SLC13A4","c":"VEC","h":1},{"g":"TACC2","c":"VEC","h":1},{"g":"PSG2","c":"VEC","h":1}
],
"d":[
{"g":"AF127936.7","c":"DC","h":1},{"g":"AIF1L","c":"DC","h":1},{"g":"BCAR4","c":"DC","h":1},{"g":"CERCAM","c":"DC","h":1},{"g":"CLDN19","c":"DC","h":1},{"g":"COL17A1","c":"DC","h":1},{"g":"EGLN3","c":"DC","h":3},{"g":"GDPD3","c":"DC","h":1},{"g":"HLA-G","c":"DC","h":2},{"g":"IL18BP","c":"DC","h":3},{"g":"INHA","c":"DC","h":1},{"g":"ITGA5","c":"DC","h":3},{"g":"LAIR2","c":"DC","h":2},{"g":"LVRN","c":"DC","h":1},{"g":"LY6D","c":"DC","h":0},{"g":"MMP11","c":"DC","h":0},{"g":"NOTUM","c":"DC","h":1},{"g":"PAPPA2","c":"DC","h":2},{"g":"PYCR1","c":"DC","h":2},{"g":"RRAD","c":"DC","h":3},{"g":"SLC8A2","c":"DC","h":2},{"g":"UPK1B","c":"DC","h":1},{"g":"ARG2","c":"DC","h":2},{"g":"ATP10D","c":"DC","h":2},{"g":"CSH2","c":"DC","h":1},{"g":"CSHL1","c":"DC","h":0},{"g":"CYP19A1","c":"DC","h":1},{"g":"DEPDC1B","c":"DC","h":2},{"g":"ERVFRD-1","c":"DC","h":0},{"g":"FAR2","c":"DC","h":3},{"g":"GH2","c":"DC","h":0},{"g":"KISS1","c":"DC","h":0},{"g":"KMO","c":"DC","h":2},{"g":"LGALS13","c":"DC","h":1},{"g":"LGALS14","c":"DC","h":0},{"g":"LGALS16","c":"DC","h":1},{"g":"MUC15","c":"DC","h":0},{"g":"PSG1","c":"DC","h":0},{"g":"PSG11","c":"DC","h":0},{"g":"PSG3","c":"DC","h":3},{"g":"PSG4","c":"DC","h":0},{"g":"PSG6","c":"DC","h":0},{"g":"PSG9","c":"DC","h":0},{"g":"PTPN21","c":"DC","h":1},{"g":"RHOBTB1","c":"DC","h":2},{"g":"SERPINB2","c":"DC","h":2},{"g":"SLC13A4","c":"DC","h":2},{"g":"TACC2","c":"DC","h":1},
{"g":"AF127936.7","c":"EVT","h":1},{"g":"AIF1L","c":"EVT","h":2,"b":2},{"g":"BCAR4","c":"EVT","h":2,"b":2},{"g":"CERCAM","c":"EVT","h":2,"b":2},{"g":"CLDN19","c":"EVT","h":2,"b":2},{"g":"COL17A1","c":"EVT","h":1},{"g":"EGLN3","c":"EVT","h":2,"b":2},{"g":"GDPD3","c":"EVT","h":2,"b":1},{"g":"HLA-G","c":"EVT","h":3,"b":3},{"g":"IL18BP","c":"EVT","h":1},{"g":"INHA","c":"EVT","h":1},{"g":"ITGA5","c":"EVT","h":2,"b":2},{"g":"LAIR2","c":"EVT","h":2,"b":3},{"g":"LVRN","c":"EVT","h":2},{"g":"LY6D","c":"EVT","h":1},{"g":"MMP11","c":"EVT","h":1},{"g":"NOTUM","c":"EVT","h":2,"b":3},{"g":"PAPPA2","c":"EVT","h":2},{"g":"PYCR1","c":"EVT","h":2,"b":1},{"g":"RRAD","c":"EVT","h":1},{"g":"SLC8A2","c":"EVT","h":1},{"g":"UPK1B","c":"EVT","h":1},{"g":"ARG2","c":"EVT","h":2},{"g":"ATP10D","c":"EVT","h":2},{"g":"CSH2","c":"EVT","h":2},{"g":"CSHL1","c":"EVT","h":2},{"g":"CYP19A1","c":"EVT","h":2},{"g":"DEPDC1B","c":"EVT","h":2,"b":1},{"g":"ERVFRD-1","c":"EVT","h":1},{"g":"FAR2","c":"EVT","h":2},{"g":"GH2","c":"EVT","h":2},{"g":"KISS1","c":"EVT","h":2},{"g":"KMO","c":"EVT","h":2},{"g":"LGALS13","c":"EVT","h":1},{"g":"LGALS14","c":"EVT","h":1},{"g":"LGALS16","c":"EVT","h":2},{"g":"MUC15","c":"EVT","h":2},{"g":"PSG1","c":"EVT","h":2},{"g":"PSG11","c":"EVT","h":2},{"g":"PSG3","c":"EVT","h":2},{"g":"PSG4","c":"EVT","h":3},{"g":"PSG6","c":"EVT","h":2},{"g":"PSG9","c":"EVT","h":2},{"g":"PTPN21","c":"EVT","h":2},{"g":"RHOBTB1","c":"EVT","h":2},{"g":"SERPINB2","c":"EVT","h":2},{"g":"SLC13A4","c":"EVT","h":2},{"g":"TACC2","c":"EVT","h":2},
{"g":"AF127936.7","c":"Endo","h":1},{"g":"AIF1L","c":"Endo","h":2},{"g":"BCAR4","c":"Endo","h":1},{"g":"CERCAM","c":"Endo","h":2},{"g":"CLDN19","c":"Endo","h":2},{"g":"COL17A1","c":"Endo","h":1},{"g":"EGLN3","c":"Endo","h":2},{"g":"GDPD3","c":"Endo","h":1},{"g":"HLA-G","c":"Endo","h":2},{"g":"IL18BP","c":"Endo","h":1},{"g":"INHA","c":"Endo","h":2},{"g":"ITGA5","c":"Endo","h":2,"b":2},{"g":"LAIR2","c":"Endo","h":2},{"g":"LVRN","c":"Endo","h":2},{"g":"LY6D","c":"Endo","h":1},{"g":"MMP11","c":"Endo","h":1},{"g":"NOTUM","c":"Endo","h":2},{"g":"PAPPA2","c":"Endo","h":2},{"g":"PYCR1","c":"Endo","h":2},{"g":"RRAD","c":"Endo","h":2},{"g":"SLC8A2","c":"Endo","h":2},{"g":"UPK1B","c":"Endo","h":1},{"g":"ARG2","c":"Endo","h":2},{"g":"ATP10D","c":"Endo","h":2},{"g":"CSH2","c":"Endo","h":2},{"g":"CSHL1","c":"Endo","h":1},{"g":"CYP19A1","c":"Endo","h":2},{"g":"DEPDC1B","c":"Endo","h":2},{"g":"ERVFRD-1","c":"Endo","h":2},{"g":"FAR2","c":"Endo","h":2},{"g":"GH2","c":"Endo","h":2},{"g":"KISS1","c":"Endo","h":2},{"g":"KMO","c":"Endo","h":2},{"g":"LGALS13","c":"Endo","h":2},{"g":"LGALS14","c":"Endo","h":2},{"g":"LGALS16","c":"Endo","h":2},{"g":"MUC15","c":"Endo","h":2},{"g":"PSG1","c":"Endo","h":1},{"g":"PSG11","c":"Endo","h":2},{"g":"PSG3","c":"Endo","h":1},{"g":"PSG4","c":"Endo","h":2},{"g":"PSG6","c":"Endo","h":2},{"g":"PSG9","c":"Endo","h":2},{"g":"PTPN21","c":"Endo","h":2},{"g":"RHOBTB1","c":"Endo","h":2},{"g":"SERPINB2","c":"Endo","h":2},{"g":"SLC13A4","c":"Endo","h":2},{"g":"TACC2","c":"Endo","h":2},
{"g":"AF127936.7","c":"Epi","h":1},{"g":"AIF1L","c":"Epi","h":2,"b":3},{"g":"BCAR4","c":"Epi","h":1},{"g":"CERCAM","c":"Epi","h":2},{"g":"CLDN19","c":"Epi","h":2},{"g":"COL17A1","c":"Epi","h":0},{"g":"EGLN3","c":"Epi","h":2},{"g":"GDPD3","c":"Epi","h":2},{"g":"HLA-G","c":"Epi","h":2},{"g":"IL18BP","c":"Epi","h":2},{"g":"INHA","c":"Epi","h":2},{"g":"ITGA5","c":"Epi","h":2},{"g":"LAIR2","c":"Epi","h":2},{"g":"LVRN","c":"Epi","h":1},{"g":"LY6D","c":"Epi","h":1},{"g":"MMP11","c":"Epi","h":1},{"g":"NOTUM","c":"Epi","h":2},{"g":"PAPPA2","c":"Epi","h":1},{"g":"PYCR1","c":"Epi","h":2},{"g":"RRAD","c":"Epi","h":2},{"g":"SLC8A2","c":"Epi","h":2},{"g":"UPK1B","c":"Epi","h":1},{"g":"ARG2","c":"Epi","h":2,"b":3},{"g":"ATP10D","c":"Epi","h":2},{"g":"CSH2","c":"Epi","h":1},{"g":"CSHL1","c":"Epi","h":0},{"g":"CYP19A1","c":"Epi","h":1},{"g":"DEPDC1B","c":"Epi","h":1},{"g":"ERVFRD-1","c":"Epi","h":1},{"g":"FAR2","c":"Epi","h":0},{"g":"GH2","c":"Epi","h":0},{"g":"KISS1","c":"Epi","h":1},{"g":"KMO","c":"Epi","h":1},{"g":"LGALS13","c":"Epi","h":1},{"g":"LGALS14","c":"Epi","h":1},{"g":"LGALS16","c":"Epi","h":1},{"g":"MUC15","c":"Epi","h":3,"b":1},{"g":"PSG1","c":"Epi","h":1},{"g":"PSG11","c":"Epi","h":0},{"g":"PSG3","c":"Epi","h":2},{"g":"PSG4","c":"Epi","h":2},{"g":"PSG6","c":"Epi","h":1},{"g":"PSG9","c":"Epi","h":2},{"g":"PTPN21","c":"Epi","h":2},{"g":"RHOBTB1","c":"Epi","h":2},{"g":"SERPINB2","c":"Epi","h":1},{"g":"SLC13A4","c":"Epi","h":1},{"g":"TACC2","c":"Epi","h":2},
{"g":"AF127936.7","c":"Granulocytes","h":0},{"g":"AIF1L","c":"Granulocytes","h":1},{"g":"BCAR4","c":"Granulocytes","h":1},{"g":"CERCAM","c":"Granulocytes","h":2},{"g":"CLDN19","c":"Granulocytes","h":1},{"g":"COL17A1","c":"Granulocytes","h":0},{"g":"EGLN3","c":"Granulocytes","h":1},{"g":"GDPD3","c":"Granulocytes","h":2},{"g":"HLA-G","c":"Granulocytes","h":1},{"g":"IL18BP","c":"Granulocytes","h":2},{"g":"INHA","c":"Granulocytes","h":1},{"g":"ITGA5","c":"Granulocytes","h":3},{"g":"LAIR2","c":"Granulocytes","h":1},{"g":"LVRN","c":"Granulocytes","h":1},{"g":"LY6D","c":"Granulocytes","h":0},{"g":"MMP11","c":"Granulocytes","h":0},{"g":"NOTUM","c":"Granulocytes","h":1},{"g":"PAPPA2","c":"Granulocytes","h":2},{"g":"PYCR1","c":"Granulocytes","h":1},{"g":"RRAD","c":"Granulocytes","h":2},{"g":"SLC8A2","c":"Granulocytes","h":1},{"g":"UPK1B","c":"Granulocytes","h":1},{"g":"ARG2","c":"Granulocytes","h":1},{"g":"ATP10D","c":"Granulocytes","h":2},{"g":"CSH2","c":"Granulocytes","h":0},{"g":"CSHL1","c":"Granulocytes","h":0},{"g":"CYP19A1","c":"Granulocytes","h":2},{"g":"DEPDC1B","c":"Granulocytes","h":2},{"g":"ERVFRD-1","c":"Granulocytes","h":2},{"g":"FAR2","c":"Granulocytes","h":2},{"g":"GH2","c":"Granulocytes","h":1},{"g":"KISS1","c":"Granulocytes","h":0},{"g":"KMO","c":"Granulocytes","h":1},{"g":"LGALS13","c":"Granulocytes","h":2},{"g":"LGALS14","c":"Granulocytes","h":1},{"g":"LGALS16","c":"Granulocytes","h":0},{"g":"MUC15","c":"Granulocytes","h":1},{"g":"PSG1","c":"Granulocytes","h":1},{"g":"PSG11","c":"Granulocytes","h":0},{"g":"PSG3","c":"Granulocytes","h":0},{"g":"PSG4","c":"Granulocytes","h":0},{"g":"PSG6","c":"Granulocytes","h":1},{"g":"PSG9","c":"Granulocytes","h":0},{"g":"PTPN21","c":"Granulocytes","h":0},{"g":"RHOBTB1","c":"Granulocytes","h":1},{"g":"SERPINB2","c":"Granulocytes","h":2},{"g":"SLC13A4","c":"Granulocytes","h":1},{"g":"TACC2","c":"Granulocytes","h":1},
{"g":"AF127936.7","c":"HB","h":2},{"g":"AIF1L","c":"HB","h":2},{"g":"BCAR4","c":"HB","h":2},{"g":"CERCAM","c":"HB","h":2},{"g":"CLDN19","c":"HB","h":2},{"g":"COL17A1","c":"HB","h":2},{"g":"EGLN3","c":"HB","h":2},{"g":"GDPD3","c":"HB","h":2},{"g":"HLA-G","c":"HB","h":3},{"g":"IL18BP","c":"HB","h":2},{"g":"INHA","c":"HB","h":1},{"g":"ITGA5","c":"HB","h":3},{"g":"LAIR2","c":"HB","h":2},{"g":"LVRN","c":"HB","h":2},{"g":"LY6D","c":"HB","h":1},{"g":"MMP11","c":"HB","h":1},{"g":"NOTUM","c":"HB","h":2},{"g":"PAPPA2","c":"HB","h":2},{"g":"PYCR1","c":"HB","h":2},{"g":"RRAD","c":"HB","h":2},{"g":"SLC8A2","c":"HB","h":1},{"g":"UPK1B","c":"HB","h":1},{"g":"ARG2","c":"HB","h":2},{"g":"ATP10D","c":"HB","h":3},{"g":"CSH2","c":"HB","h":2},{"g":"CSHL1","c":"HB","h":1},{"g":"CYP19A1","c":"HB","h":2},{"g":"DEPDC1B","c":"HB","h":2},{"g":"ERVFRD-1","c":"HB","h":2},{"g":"FAR2","c":"HB","h":2},{"g":"GH2","c":"HB","h":3},{"g":"KISS1","c":"HB","h":1},{"g":"KMO","c":"HB","h":2},{"g":"LGALS13","c":"HB","h":2},{"g":"LGALS14","c":"HB","h":2},{"g":"LGALS16","c":"HB","h":2},{"g":"MUC15","c":"HB","h":2},{"g":"PSG1","c":"HB","h":2},{"g":"PSG11","c":"HB","h":1},{"g":"PSG3","c":"HB","h":2},{"g":"PSG4","c":"HB","h":2},{"g":"PSG6","c":"HB","h":2},{"g":"PSG9","c":"HB","h":2},{"g":"PTPN21","c":"HB","h":1},{"g":"RHOBTB1","c":"HB","h":2},{"g":"SERPINB2","c":"HB","h":2},{"g":"SLC13A4","c":"HB","h":2},{"g":"TACC2","c":"HB","h":2},
{"g":"AF127936.7","c":"ILC3","h":0},{"g":"AIF1L","c":"ILC3","h":0},{"g":"BCAR4","c":"ILC3","h":0},{"g":"CERCAM","c":"ILC3","h":1},{"g":"CLDN19","c":"ILC3","h":2},{"g":"COL17A1","c":"ILC3","h":0},{"g":"EGLN3","c":"ILC3","h":2},{"g":"GDPD3","c":"ILC3","h":2},{"g":"HLA-G","c":"ILC3","h":2},{"g":"IL18BP","c":"ILC3","h":2},{"g":"INHA","c":"ILC3","h":0},{"g":"ITGA5","c":"ILC3","h":4},{"g":"LAIR2","c":"ILC3","h":2},{"g":"LVRN","c":"ILC3","h":0},{"g":"LY6D","c":"ILC3","h":0},{"g":"MMP11","c":"ILC3","h":2},{"g":"NOTUM","c":"ILC3","h":0},{"g":"PAPPA2","c":"ILC3","h":0},{"g":"PYCR1","c":"ILC3","h":2},{"g":"RRAD","c":"ILC3","h":3},{"g":"SLC8A2","c":"ILC3","h":0},{"g":"UPK1B","c":"ILC3","h":0},{"g":"ARG2","c":"ILC3","h":2},{"g":"ATP10D","c":"ILC3","h":3},{"g":"CSH2","c":"ILC3","h":0},{"g":"CSHL1","c":"ILC3","h":0},{"g":"CYP19A1","c":"ILC3","h":0},{"g":"DEPDC1B","c":"ILC3","h":2},{"g":"ERVFRD-1","c":"ILC3","h":0},{"g":"FAR2","c":"ILC3","h":3},{"g":"GH2","c":"ILC3","h":0},{"g":"KISS1","c":"ILC3","h":0},{"g":"KMO","c":"ILC3","h":1},{"g":"LGALS13","c":"ILC3","h":0},{"g":"LGALS14","c":"ILC3","h":0},{"g":"LGALS16","c":"ILC3","h":1},{"g":"MUC15","c":"ILC3","h":0},{"g":"PSG1","c":"ILC3","h":0},{"g":"PSG11","c":"ILC3","h":0},{"g":"PSG3","c":"ILC3","h":0},{"g":"PSG4","c":"ILC3","h":0},{"g":"PSG6","c":"ILC3","h":0},{"g":"PSG9","c":"ILC3","h":0},{"g":"PTPN21","c":"ILC3","h":1},{"g":"RHOBTB1","c":"ILC3","h":2},{"g":"SERPINB2","c":"ILC3","h":2},{"g":"SLC13A4","c":"ILC3","h":1},{"g":"TACC2","c":"ILC3","h":0},
{"g":"AF127936.7","c":"MO","h":1},{"g":"AIF1L","c":"MO","h":2},{"g":"BCAR4","c":"MO","h":2},{"g":"CERCAM","c":"MO","h":2},{"g":"CLDN19","c":"MO","h":2},{"g":"COL17A1","c":"MO","h":2},{"g":"EGLN3","c":"MO","h":2},{"g":"GDPD3","c":"MO","h":2},{"g":"HLA-G","c":"MO","h":2},{"g":"IL18BP","c":"MO","h":2},{"g":"INHA","c":"MO","h":1},{"g":"ITGA5","c":"MO","h":4},{"g":"LAIR2","c":"MO","h":3},{"g":"LVRN","c":"MO","h":1},{"g":"LY6D","c":"MO","h":1},{"g":"MMP11","c":"MO","h":2},{"g":"NOTUM","c":"MO","h":1},{"g":"PAPPA2","c":"MO","h":1},{"g":"PYCR1","c":"MO","h":1},{"g":"RRAD","c":"MO","h":2},{"g":"SLC8A2","c":"MO","h":2},{"g":"UPK1B","c":"MO","h":2},{"g":"ARG2","c":"MO","h":1},{"g":"ATP10D","c":"MO","h":2},{"g":"CSH2","c":"MO","h":1},{"g":"CSHL1","c":"MO","h":0},{"g":"CYP19A1","c":"MO","h":0},{"g":"DEPDC1B","c":"MO","h":2},{"g":"ERVFRD-1","c":"MO","h":0},{"g":"FAR2","c":"MO","h":3},{"g":"GH2","c":"MO","h":0},{"g":"KISS1","c":"MO","h":0},{"g":"KMO","c":"MO","h":3},{"g":"LGALS13","c":"MO","h":0},{"g":"LGALS14","c":"MO","h":0},{"g":"LGALS16","c":"MO","h":0},{"g":"MUC15","c":"MO","h":0},{"g":"PSG1","c":"MO","h":0},{"g":"PSG11","c":"MO","h":0},{"g":"PSG3","c":"MO","h":0},{"g":"PSG4","c":"MO","h":0},{"g":"PSG6","c":"MO","h":0},{"g":"PSG9","c":"MO","h":1},{"g":"PTPN21","c":"MO","h":1},{"g":"RHOBTB1","c":"MO","h":1},{"g":"SERPINB2","c":"MO","h":2},{"g":"SLC13A4","c":"MO","h":1},{"g":"TACC2","c":"MO","h":1},
{"g":"AF127936.7","c":"NK","h":0},{"g":"AIF1L","c":"NK","h":2},{"g":"BCAR4","c":"NK","h":1},{"g":"CERCAM","c":"NK","h":2},{"g":"CLDN19","c":"NK","h":2},{"g":"COL17A1","c":"NK","h":2},{"g":"EGLN3","c":"NK","h":2},{"g":"GDPD3","c":"NK","h":2},{"g":"HLA-G","c":"NK","h":2},{"g":"IL18BP","c":"NK","h":2},{"g":"INHA","c":"NK","h":1},{"g":"ITGA5","c":"NK","h":3},{"g":"LAIR2","c":"NK","h":3},{"g":"LVRN","c":"NK","h":2},{"g":"LY6D","c":"NK","h":1},{"g":"MMP11","c":"NK","h":2},{"g":"NOTUM","c":"NK","h":2},{"g":"PAPPA2","c":"NK","h":2},{"g":"PYCR1","c":"NK","h":2},{"g":"RRAD","c":"NK","h":2},{"g":"SLC8A2","c":"NK","h":2},{"g":"UPK1B","c":"NK","h":2},{"g":"ARG2","c":"NK","h":1},{"g":"ATP10D","c":"NK","h":2},{"g":"CSH2","c":"NK","h":2},{"g":"CSHL1","c":"NK","h":0},{"g":"CYP19A1","c":"NK","h":1},{"g":"DEPDC1B","c":"NK","h":2},{"g":"ERVFRD-1","c":"NK","h":2},{"g":"FAR2","c":"NK","h":2},{"g":"GH2","c":"NK","h":1},{"g":"KISS1","c":"NK","h":0},{"g":"KMO","c":"NK","h":2},{"g":"LGALS13","c":"NK","h":1},{"g":"LGALS14","c":"NK","h":1},{"g":"LGALS16","c":"NK","h":1},{"g":"MUC15","c":"NK","h":0},{"g":"PSG1","c":"NK","h":0},{"g":"PSG11","c":"NK","h":2},{"g":"PSG3","c":"NK","h":0},{"g":"PSG4","c":"NK","h":2},{"g":"PSG6","c":"NK","h":0},{"g":"PSG9","c":"NK","h":2},{"g":"PTPN21","c":"NK","h":0},{"g":"RHOBTB1","c":"NK","h":2},{"g":"SERPINB2","c":"NK","h":2},{"g":"SLC13A4","c":"NK","h":2},{"g":"TACC2","c":"NK","h":2},
{"g":"AF127936.7","c":"Plasma","h":0},{"g":"AIF1L","c":"Plasma","h":2},{"g":"BCAR4","c":"Plasma","h":0},{"g":"CERCAM","c":"Plasma","h":2},{"g":"CLDN19","c":"Plasma","h":0},{"g":"COL17A1","c":"Plasma","h":2},{"g":"EGLN3","c":"Plasma","h":3},{"g":"GDPD3","c":"Plasma","h":2},{"g":"HLA-G","c":"Plasma","h":3},{"g":"IL18BP","c":"Plasma","h":2},{"g":"INHA","c":"Plasma","h":0},{"g":"ITGA5","c":"Plasma","h":3},{"g":"LAIR2","c":"Plasma","h":2},{"g":"LVRN","c":"Plasma","h":1},{"g":"LY6D","c":"Plasma","h":0},{"g":"MMP11","c":"Plasma","h":2},{"g":"NOTUM","c":"Plasma","h":2},{"g":"PAPPA2","c":"Plasma","h":2},{"g":"PYCR1","c":"Plasma","h":2},{"g":"RRAD","c":"Plasma","h":1},{"g":"SLC8A2","c":"Plasma","h":0},{"g":"UPK1B","c":"Plasma","h":1},{"g":"ARG2","c":"Plasma","h":1},{"g":"ATP10D","c":"Plasma","h":2},{"g":"CSH2","c":"Plasma","h":0},{"g":"CSHL1","c":"Plasma","h":1},{"g":"CYP19A1","c":"Plasma","h":0},{"g":"DEPDC1B","c":"Plasma","h":1},{"g":"ERVFRD-1","c":"Plasma","h":0},{"g":"FAR2","c":"Plasma","h":2},{"g":"GH2","c":"Plasma","h":0},{"g":"KISS1","c":"Plasma","h":0},{"g":"KMO","c":"Plasma","h":3},{"g":"LGALS13","c":"Plasma","h":0},{"g":"LGALS14","c":"Plasma","h":0},{"g":"LGALS16","c":"Plasma","h":1},{"g":"MUC15","c":"Plasma","h":0},{"g":"PSG1","c":"Plasma","h":0},{"g":"PSG11","c":"Plasma","h":0},{"g":"PSG3","c":"Plasma","h":0},{"g":"PSG4","c":"Plasma","h":0},{"g":"PSG6","c":"Plasma","h":0},{"g":"PSG9","c":"Plasma","h":0},{"g":"PTPN21","c":"Plasma","h":0},{"g":"RHOBTB1","c":"Plasma","h":2},{"g":"SERPINB2","c":"Plasma","h":2},{"g":"SLC13A4","c":"Plasma","h":1},{"g":"TACC2","c":"Plasma","h":1},
{"g":"AF127936.7","c":"SCT","h":1},{"g":"AIF1L","c":"SCT","h":2},{"g":"BCAR4","c":"SCT","h":2,"b":2},{"g":"CERCAM","c":"SCT","h":2},{"g":"CLDN19","c":"SCT","h":2},{"g":"COL17A1","c":"SCT","h":2},{"g":"EGLN3","c":"SCT","h":2,"b":1},{"g":"GDPD3","c":"SCT","h":2},{"g":"HLA-G","c":"SCT","h":2},{"g":"IL18BP","c":"SCT","h":2},{"g":"INHA","c":"SCT","h":2,"b":2},{"g":"ITGA5","c":"SCT","h":3},{"g":"LAIR2","c":"SCT","h":2},{"g":"LVRN","c":"SCT","h":2},{"g":"LY6D","c":"SCT","h":1},{"g":"MMP11","c":"SCT","h":2},{"g":"NOTUM","c":"SCT","h":2},{"g":"PAPPA2","c":"SCT","h":2},{"g":"PYCR1","c":"SCT","h":2},{"g":"RRAD","c":"SCT","h":2},{"g":"SLC8A2","c":"SCT","h":2},{"g":"UPK1B","c":"SCT","h":2},{"g":"ARG2","c":"SCT","h":2,"b":3},{"g":"ATP10D","c":"SCT","h":2,"b":2},{"g":"CSH2","c":"SCT","h":2},{"g":"CSHL1","c":"SCT","h":2},{"g":"CYP19A1","c":"SCT","h":2,"b":3},{"g":"DEPDC1B","c":"SCT","h":2},{"g":"ERVFRD-1","c":"SCT","h":2,"b":2},{"g":"FAR2","c":"SCT","h":2,"b":2},{"g":"GH2","c":"SCT","h":2},{"g":"KISS1","c":"SCT","h":3},{"g":"KMO","c":"SCT","h":2,"b":1},{"g":"LGALS13","c":"SCT","h":2,"b":1},{"g":"LGALS14","c":"SCT","h":2},{"g":"LGALS16","c":"SCT","h":2,"b":2},{"g":"MUC15","c":"SCT","h":2,"b":3},{"g":"PSG1","c":"SCT","h":2},{"g":"PSG11","c":"SCT","h":2},{"g":"PSG3","c":"SCT","h":3},{"g":"PSG4","c":"SCT","h":2},{"g":"PSG6","c":"SCT","h":2},{"g":"PSG9","c":"SCT","h":2},{"g":"PTPN21","c":"SCT","h":2,"b":1},{"g":"RHOBTB1","c":"SCT","h":2,"b":2},{"g":"SERPINB2","c":"SCT","h":2,"b":1},{"g":"SLC13A4","c":"SCT","h":2,"b":2},{"g":"TACC2","c":"SCT","h":2,"b":2},
{"g":"AF127936.7","c":"Tcells","h":2},{"g":"AIF1L","c":"Tcells","h":2},{"g":"BCAR4","c":"Tcells","h":2},{"g":"CERCAM","c":"Tcells","h":2},{"g":"CLDN19","c":"Tcells","h":2},{"g":"COL17A1","c":"Tcells","h":2},{"g":"EGLN3","c":"Tcells","h":2},{"g":"GDPD3","c":"Tcells","h":2},{"g":"HLA-G","c":"Tcells","h":2},{"g":"IL18BP","c":"Tcells","h":2},{"g":"INHA","c":"Tcells","h":2},{"g":"ITGA5","c":"Tcells","h":2},{"g":"LAIR2","c":"Tcells","h":2},{"g":"LVRN","c":"Tcells","h":2},{"g":"LY6D","c":"Tcells","h":1},{"g":"MMP11","c":"Tcells","h":2},{"g":"NOTUM","c":"Tcells","h":2},{"g":"PAPPA2","c":"Tcells","h":2},{"g":"PYCR1","c":"Tcells","h":2},{"g":"RRAD","c":"Tcells","h":2},{"g":"SLC8A2","c":"Tcells","h":2},{"g":"UPK1B","c":"Tcells","h":2},{"g":"ARG2","c":"Tcells","h":2},{"g":"ATP10D","c":"Tcells","h":2},{"g":"CSH2","c":"Tcells","h":0},{"g":"CSHL1","c":"Tcells","h":1},{"g":"CYP19A1","c":"Tcells","h":2},{"g":"DEPDC1B","c":"Tcells","h":2},{"g":"ERVFRD-1","c":"Tcells","h":2},{"g":"FAR2","c":"Tcells","h":2},{"g":"GH2","c":"Tcells","h":2},{"g":"KISS1","c":"Tcells","h":2},{"g":"KMO","c":"Tcells","h":2},{"g":"LGALS13","c":"Tcells","h":2},{"g":"LGALS14","c":"Tcells","h":2},{"g":"LGALS16","c":"Tcells","h":2},{"g":"MUC15","c":"Tcells","h":2},{"g":"PSG1","c":"Tcells","h":2},{"g":"PSG11","c":"Tcells","h":2},{"g":"PSG3","c":"Tcells","h":2},{"g":"PSG4","c":"Tcells","h":2},{"g":"PSG6","c":"Tcells","h":2},{"g":"PSG9","c":"Tcells","h":2},{"g":"PTPN21","c":"Tcells","h":2},{"g":"RHOBTB1","c":"Tcells","h":2},{"g":"SERPINB2","c":"Tcells","h":2},{"g":"SLC13A4","c":"Tcells","h":2},{"g":"TACC2","c":"Tcells","h":2},
{"g":"AF127936.7","c":"VCT","h":2},{"g":"AIF1L","c":"VCT","h":2},{"g":"BCAR4","c":"VCT","h":2},{"g":"CERCAM","c":"VCT","h":2},{"g":"CLDN19","c":"VCT","h":2},{"g":"COL17A1","c":"VCT","h":2},{"g":"EGLN3","c":"VCT","h":2},{"g":"GDPD3","c":"VCT","h":3},{"g":"HLA-G","c":"VCT","h":2},{"g":"IL18BP","c":"VCT","h":2},{"g":"INHA","c":"VCT","h":2},{"g":"ITGA5","c":"VCT","h":2},{"g":"LAIR2","c":"VCT","h":2},{"g":"LVRN","c":"VCT","h":2},{"g":"LY6D","c":"VCT","h":1},{"g":"MMP11","c":"VCT","h":1},{"g":"NOTUM","c":"VCT","h":2},{"g":"PAPPA2","c":"VCT","h":2},{"g":"PYCR1","c":"VCT","h":2},{"g":"RRAD","c":"VCT","h":2},{"g":"SLC8A2","c":"VCT","h":1},{"g":"UPK1B","c":"VCT","h":1},{"g":"ARG2","c":"VCT","h":2,"b":2},{"g":"ATP10D","c":"VCT","h":2,"b":1},{"g":"CSH2","c":"VCT","h":2},{"g":"CSHL1","c":"VCT","h":2},{"g":"CYP19A1","c":"VCT","h":2},{"g":"DEPDC1B","c":"VCT","h":2},{"g":"ERVFRD-1","c":"VCT","h":2},{"g":"FAR2","c":"VCT","h":2},{"g":"GH2","c":"VCT","h":2},{"g":"KISS1","c":"VCT","h":2},{"g":"KMO","c":"VCT","h":2},{"g":"LGALS13","c":"VCT","h":2},{"g":"LGALS14","c":"VCT","h":2},{"g":"LGALS16","c":"VCT","h":2},{"g":"MUC15","c":"VCT","h":3,"b":1},{"g":"PSG1","c":"VCT","h":2},{"g":"PSG11","c":"VCT","h":2},{"g":"PSG3","c":"VCT","h":2},{"g":"PSG4","c":"VCT","h":2},{"g":"PSG6","c":"VCT","h":2},{"g":"PSG9","c":"VCT","h":2},{"g":"PTPN21","c":"VCT","h":2},{"g":"RHOBTB1","c":"VCT","h":2,"b":1},{"g":"SERPINB2","c":"VCT","h":2},{"g":"SLC13A4","c":"VCT","h":2,"b":3},{"g":"TACC2","c":"VCT","h":2,"b":1},
{"g":"AF127936.7","c":"dM","h":2},{"g":"AIF1L","c":"dM","h":2},{"g":"BCAR4","c":"dM","h":2},{"g":"CERCAM","c":"dM","h":2},{"g":"CLDN19","c":"dM","h":2},{"g":"COL17A1","c":"dM","h":2},{"g":"EGLN3","c":"dM","h":2},{"g":"GDPD3","c":"dM","h":2},{"g":"HLA-G","c":"dM","h":2},{"g":"IL18BP","c":"dM","h":2},{"g":"INHA","c":"dM","h":2},{"g":"ITGA5","c":"dM","h":3},{"g":"LAIR2","c":"dM","h":2},{"g":"LVRN","c":"dM","h":2},{"g":"LY6D","c":"dM","h":1},{"g":"MMP11","c":"dM","h":2},{"g":"NOTUM","c":"dM","h":2},{"g":"PAPPA2","c":"dM","h":2},{"g":"PYCR1","c":"dM","h":2},{"g":"RRAD","c":"dM","h":2},{"g":"SLC8A2","c":"dM","h":2},{"g":"UPK1B","c":"dM","h":2},{"g":"ARG2","c":"dM","h":2},{"g":"ATP10D","c":"dM","h":2},{"g":"CSH2","c":"dM","h":2},{"g":"CSHL1","c":"dM","h":1},{"g":"CYP19A1","c":"dM","h":2},{"g":"DEPDC1B","c":"dM","h":1},{"g":"ERVFRD-1","c":"dM","h":2},{"g":"FAR2","c":"dM","h":2},{"g":"GH2","c":"dM","h":2},{"g":"KISS1","c":"dM","h":1},{"g":"KMO","c":"dM","h":2},{"g":"LGALS13","c":"dM","h":2},{"g":"LGALS14","c":"dM","h":2},{"g":"LGALS16","c":"dM","h":2},{"g":"MUC15","c":"dM","h":2},{"g":"PSG1","c":"dM","h":1},{"g":"PSG11","c":"dM","h":1},{"g":"PSG3","c":"dM","h":2},{"g":"PSG4","c":"dM","h":1},{"g":"PSG6","c":"dM","h":2},{"g":"PSG9","c":"dM","h":1},{"g":"PTPN21","c":"dM","h":2},{"g":"RHOBTB1","c":"dM","h":2},{"g":"SERPINB2","c":"dM","h":2},{"g":"SLC13A4","c":"dM","h":2},{"g":"TACC2","c":"dM","h":2},
{"g":"AF127936.7","c":"dNK p","h":2},{"g":"AIF1L","c":"dNK p","h":2},{"g":"BCAR4","c":"dNK p","h":2},{"g":"CERCAM","c":"dNK p","h":3},{"g":"CLDN19","c":"dNK p","h":2},{"g":"COL17A1","c":"dNK p","h":2},{"g":"EGLN3","c":"dNK p","h":3},{"g":"GDPD3","c":"dNK p","h":2},{"g":"HLA-G","c":"dNK p","h":2},{"g":"IL18BP","c":"dNK p","h":2},{"g":"INHA","c":"dNK p","h":2},{"g":"ITGA5","c":"dNK p","h":3},{"g":"LAIR2","c":"dNK p","h":2},{"g":"LVRN","c":"dNK p","h":2},{"g":"LY6D","c":"dNK p","h":1},{"g":"MMP11","c":"dNK p","h":2},{"g":"NOTUM","c":"dNK p","h":2},{"g":"PAPPA2","c":"dNK p","h":2},{"g":"PYCR1","c":"dNK p","h":3},{"g":"RRAD","c":"dNK p","h":3},{"g":"SLC8A2","c":"dNK p","h":2},{"g":"UPK1B","c":"dNK p","h":2},{"g":"ARG2","c":"dNK p","h":3},{"g":"ATP10D","c":"dNK p","h":2},{"g":"CSH2","c":"dNK p","h":0},{"g":"CSHL1","c":"dNK p","h":0},{"g":"CYP19A1","c":"dNK p","h":0},{"g":"DEPDC1B","c":"dNK p","h":3,"b":1},{"g":"ERVFRD-1","c":"dNK p","h":0},{"g":"FAR2","c":"dNK p","h":3},{"g":"GH2","c":"dNK p","h":0},{"g":"KISS1","c":"dNK p","h":0},{"g":"KMO","c":"dNK p","h":2},{"g":"LGALS13","c":"dNK p","h":0},{"g":"LGALS14","c":"dNK p","h":0},{"g":"LGALS16","c":"dNK p","h":1},{"g":"MUC15","c":"dNK p","h":0},{"g":"PSG1","c":"dNK p","h":0},{"g":"PSG11","c":"dNK p","h":0},{"g":"PSG3","c":"dNK p","h":1},{"g":"PSG4","c":"dNK p","h":0},{"g":"PSG6","c":"dNK p","h":0},{"g":"PSG9","c":"dNK p","h":0},{"g":"PTPN21","c":"dNK p","h":1},{"g":"RHOBTB1","c":"dNK p","h":1},{"g":"SERPINB2","c":"dNK p","h":2},{"g":"SLC13A4","c":"dNK p","h":1},{"g":"TACC2","c":"dNK p","h":0},
{"g":"AF127936.7","c":"decid-NK","h":2},{"g":"AIF1L","c":"decid-NK","h":2},{"g":"BCAR4","c":"decid-NK","h":2},{"g":"CERCAM","c":"decid-NK","h":2},{"g":"CLDN19","c":"decid-NK","h":2},{"g":"COL17A1","c":"decid-NK","h":2},{"g":"EGLN3","c":"decid-NK","h":2},{"g":"GDPD3","c":"decid-NK","h":2},{"g":"HLA-G","c":"decid-NK","h":2},{"g":"IL18BP","c":"decid-NK","h":2},{"g":"INHA","c":"decid-NK","h":2},{"g":"ITGA5","c":"decid-NK","h":2},{"g":"LAIR2","c":"decid-NK","h":2},{"g":"LVRN","c":"decid-NK","h":2},{"g":"LY6D","c":"decid-NK","h":1},{"g":"MMP11","c":"decid-NK","h":2},{"g":"NOTUM","c":"decid-NK","h":2},{"g":"PAPPA2","c":"decid-NK","h":2},{"g":"PYCR1","c":"decid-NK","h":2},{"g":"RRAD","c":"decid-NK","h":2},{"g":"SLC8A2","c":"decid-NK","h":2},{"g":"UPK1B","c":"decid-NK","h":2},{"g":"ARG2","c":"decid-NK","h":2},{"g":"ATP10D","c":"decid-NK","h":2},{"g":"CSH2","c":"decid-NK","h":2},{"g":"CSHL1","c":"decid-NK","h":1},{"g":"CYP19A1","c":"decid-NK","h":1},{"g":"DEPDC1B","c":"decid-NK","h":2},{"g":"ERVFRD-1","c":"decid-NK","h":0},{"g":"FAR2","c":"decid-NK","h":2},{"g":"GH2","c":"decid-NK","h":0},{"g":"KISS1","c":"decid-NK","h":2},{"g":"KMO","c":"decid-NK","h":2},{"g":"LGALS13","c":"decid-NK","h":2},{"g":"LGALS14","c":"decid-NK","h":1},{"g":"LGALS16","c":"decid-NK","h":0},{"g":"MUC15","c":"decid-NK","h":0},{"g":"PSG1","c":"decid-NK","h":1},{"g":"PSG11","c":"decid-NK","h":2},{"g":"PSG3","c":"decid-NK","h":2},{"g":"PSG4","c":"decid-NK","h":2},{"g":"PSG6","c":"decid-NK","h":2},{"g":"PSG9","c":"decid-NK","h":2},{"g":"PTPN21","c":"decid-NK","h":2},{"g":"RHOBTB1","c":"decid-NK","h":2},{"g":"SERPINB2","c":"decid-NK","h":2},{"g":"SLC13A4","c":"decid-NK","h":2},{"g":"TACC2","c":"decid-NK","h":2},
{"g":"AF127936.7","c":"decid-P","h":2},{"g":"AIF1L","c":"decid-P","h":2},{"g":"BCAR4","c":"decid-P","h":2},{"g":"CERCAM","c":"decid-P","h":2,"b":1},{"g":"CLDN19","c":"decid-P","h":2},{"g":"COL17A1","c":"decid-P","h":2},{"g":"EGLN3","c":"decid-P","h":2},{"g":"GDPD3","c":"decid-P","h":2},{"g":"HLA-G","c":"decid-P","h":2},{"g":"IL18BP","c":"decid-P","h":2},{"g":"INHA","c":"decid-P","h":2},{"g":"ITGA5","c":"decid-P","h":2},{"g":"LAIR2","c":"decid-P","h":2},{"g":"LVRN","c":"decid-P","h":2},{"g":"LY6D","c":"decid-P","h":1},{"g":"MMP11","c":"decid-P","h":2,"b":2},{"g":"NOTUM","c":"decid-P","h":2},{"g":"PAPPA2","c":"decid-P","h":2},{"g":"PYCR1","c":"decid-P","h":2},{"g":"RRAD","c":"decid-P","h":2,"b":1},{"g":"SLC8A2","c":"decid-P","h":2},{"g":"UPK1B","c":"decid-P","h":2},{"g":"ARG2","c":"decid-P","h":2},{"g":"ATP10D","c":"decid-P","h":2},{"g":"CSH2","c":"decid-P","h":2},{"g":"CSHL1","c":"decid-P","h":1},{"g":"CYP19A1","c":"decid-P","h":2},{"g":"DEPDC1B","c":"decid-P","h":2},{"g":"ERVFRD-1","c":"decid-P","h":1},{"g":"FAR2","c":"decid-P","h":2},{"g":"GH2","c":"decid-P","h":2},{"g":"KISS1","c":"decid-P","h":2},{"g":"KMO","c":"decid-P","h":2},{"g":"LGALS13","c":"decid-P","h":2},{"g":"LGALS14","c":"decid-P","h":2},{"g":"LGALS16","c":"decid-P","h":2},{"g":"MUC15","c":"decid-P","h":1},{"g":"PSG1","c":"decid-P","h":2},{"g":"PSG11","c":"decid-P","h":2},{"g":"PSG3","c":"decid-P","h":2},{"g":"PSG4","c":"decid-P","h":2},{"g":"PSG6","c":"decid-P","h":2},{"g":"PSG9","c":"decid-P","h":2},{"g":"PTPN21","c":"decid-P","h":2},{"g":"RHOBTB1","c":"decid-P","h":2},{"g":"SERPINB2","c":"decid-P","h":2},{"g":"SLC13A4","c":"decid-P","h":2},{"g":"TACC2","c":"decid-P","h":2},
{"g":"AF127936.7","c":"decid-Stromal","h":2},{"g":"AIF1L","c":"decid-Stromal","h":2},{"g":"BCAR4","c":"decid-Stromal","h":2},{"g":"CERCAM","c":"decid-Stromal","h":2,"b":1},{"g":"CLDN19","c":"decid-Stromal","h":2},{"g":"COL17A1","c":"decid-Stromal","h":2},{"g":"EGLN3","c":"decid-Stromal","h":2},{"g":"GDPD3","c":"decid-Stromal","h":2},{"g":"HLA-G","c":"decid-Stromal","h":2},{"g":"IL18BP","c":"decid-Stromal","h":2},{"g":"INHA","c":"decid-Stromal","h":2},{"g":"ITGA5","c":"decid-Stromal","h":2,"b":1},{"g":"LAIR2","c":"decid-Stromal","h":2},{"g":"LVRN","c":"decid-Stromal","h":2},{"g":"LY6D","c":"decid-Stromal","h":1},{"g":"MMP11","c":"decid-Stromal","h":2},{"g":"NOTUM","c":"decid-Stromal","h":2},{"g":"PAPPA2","c":"decid-Stromal","h":2},{"g":"PYCR1","c":"decid-Stromal","h":2},{"g":"RRAD","c":"decid-Stromal","h":2},{"g":"SLC8A2","c":"decid-Stromal","h":2},{"g":"UPK1B","c":"decid-Stromal","h":2},{"g":"ARG2","c":"decid-Stromal","h":2},{"g":"ATP10D","c":"decid-Stromal","h":2},{"g":"CSH2","c":"decid-Stromal","h":2},{"g":"CSHL1","c":"decid-Stromal","h":1},{"g":"CYP19A1","c":"decid-Stromal","h":2},{"g":"DEPDC1B","c":"decid-Stromal","h":2},{"g":"ERVFRD-1","c":"decid-Stromal","h":2},{"g":"FAR2","c":"decid-Stromal","h":2},{"g":"GH2","c":"decid-Stromal","h":2},{"g":"KISS1","c":"decid-Stromal","h":2},{"g":"KMO","c":"decid-Stromal","h":2},{"g":"LGALS13","c":"decid-Stromal","h":2},{"g":"LGALS14","c":"decid-Stromal","h":1},{"g":"LGALS16","c":"decid-Stromal","h":2},{"g":"MUC15","c":"decid-Stromal","h":2},{"g":"PSG1","c":"decid-Stromal","h":2},{"g":"PSG11","c":"decid-Stromal","h":2},{"g":"PSG3","c":"decid-Stromal","h":2},{"g":"PSG4","c":"decid-Stromal","h":2},{"g":"PSG6","c":"decid-Stromal","h":2},{"g":"PSG9","c":"decid-Stromal","h":2},{"g":"PTPN21","c":"decid-Stromal","h":2},{"g":"RHOBTB1","c":"decid-Stromal","h":2},{"g":"SERPINB2","c":"decid-Stromal","h":2},{"g":"SLC13A4","c":"decid-Stromal","h":2},{"g":"TACC2","c":"decid-Stromal","h":2},
{"g":"AF127936.7","c":"fetal-Fibroblast","h":1},{"g":"AIF1L","c":"fetal-Fibroblast","h":3},{"g":"BCAR4","c":"fetal-Fibroblast","h":2},{"g":"CERCAM","c":"fetal-Fibroblast","h":2,"b":3},{"g":"CLDN19","c":"fetal-Fibroblast","h":2},{"g":"COL17A1","c":"fetal-Fibroblast","h":2},{"g":"EGLN3","c":"fetal-Fibroblast","h":2},{"g":"GDPD3","c":"fetal-Fibroblast","h":2},{"g":"HLA-G","c":"fetal-Fibroblast","h":2},{"g":"IL18BP","c":"fetal-Fibroblast","h":2},{"g":"INHA","c":"fetal-Fibroblast","h":2},{"g":"ITGA5","c":"fetal-Fibroblast","h":3},{"g":"LAIR2","c":"fetal-Fibroblast","h":2},{"g":"LVRN","c":"fetal-Fibroblast","h":2},{"g":"LY6D","c":"fetal-Fibroblast","h":1},{"g":"MMP11","c":"fetal-Fibroblast","h":2},{"g":"NOTUM","c":"fetal-Fibroblast","h":2},{"g":"PAPPA2","c":"fetal-Fibroblast","h":2},{"g":"PYCR1","c":"fetal-Fibroblast","h":2,"b":2},{"g":"RRAD","c":"fetal-Fibroblast","h":3},{"g":"SLC8A2","c":"fetal-Fibroblast","h":2},{"g":"UPK1B","c":"fetal-Fibroblast","h":2},{"g":"ARG2","c":"fetal-Fibroblast","h":2},{"g":"ATP10D","c":"fetal-Fibroblast","h":2},{"g":"CSH2","c":"fetal-Fibroblast","h":2},{"g":"CSHL1","c":"fetal-Fibroblast","h":2},{"g":"CYP19A1","c":"fetal-Fibroblast","h":2},{"g":"DEPDC1B","c":"fetal-Fibroblast","h":2},{"g":"ERVFRD-1","c":"fetal-Fibroblast","h":2},{"g":"FAR2","c":"fetal-Fibroblast","h":2},{"g":"GH2","c":"fetal-Fibroblast","h":2},{"g":"KISS1","c":"fetal-Fibroblast","h":2},{"g":"KMO","c":"fetal-Fibroblast","h":2},{"g":"LGALS13","c":"fetal-Fibroblast","h":2},{"g":"LGALS14","c":"fetal-Fibroblast","h":2},{"g":"LGALS16","c":"fetal-Fibroblast","h":2},{"g":"MUC15","c":"fetal-Fibroblast","h":2},{"g":"PSG1","c":"fetal-Fibroblast","h":2},{"g":"PSG11","c":"fetal-Fibroblast","h":2},{"g":"PSG3","c":"fetal-Fibroblast","h":2},{"g":"PSG4","c":"fetal-Fibroblast","h":2},{"g":"PSG6","c":"fetal-Fibroblast","h":2},{"g":"PSG9","c":"fetal-Fibroblast","h":2},{"g":"PTPN21","c":"fetal-Fibroblast","h":2},{"g":"RHOBTB1","c":"fetal-Fibroblast","h":2},{"g":"SERPINB2","c":"fetal-Fibroblast","h":2},{"g":"SLC13A4","c":"fetal-Fibroblast","h":2},{"g":"TACC2","c":"fetal-Fibroblast","h":2}
]},
"concat":[
{"concat":[
{"width":242,"height":241,
"title":{"text":"a","frame":"group","dx":-34,"offset":0},
"data":{"name":"a"},
"transform":[
{"calculate":"datum.cell + '|' + datum.cond","as":"key"},
{"calculate":"round(datum.v / 0.28)","as":"bin"},
{"window":[{"op":"row_number","as":"k"}],"groupby":["key","bin"],"sort":[{"field":"v"}]},
{"joinaggregate":[{"op":"count","as":"n"}],"groupby":["key","bin"]},
{"calculate":"(datum.k - 1 - (datum.n - 1) / 2) * 5.4","as":"off"}],
"encoding":{"x":{"field":"key","type":"nominal","sort":["Syncytiotrophoblast|CTRL","Syncytiotrophoblast|PE","Extravillous Trophoblast|CTRL","Extravillous Trophoblast|PE"],"scale":{"paddingInner":0,"paddingOuter":0},
"axis":{"title":null,"values":["Syncytiotrophoblast|CTRL","Extravillous Trophoblast|CTRL"],"labelAngle":0,"labelOverlap":false,"labelOffset":30.25,"labelPadding":7,"labelFontSize":8.3,"labelColor":"#333","labelExpr":"split(datum.value, '|')[0]"}}},
"layer":[
{"mark":{"type":"boxplot","extent":1.5,"outliers":false,"size":50,"ticks":{"size":16,"color":"#666"},"rule":{"color":"#666"},"median":{"color":"#777"},"box":{"stroke":"#888","strokeWidth":1}},
"encoding":{"y":{"field":"v","type":"quantitative","scale":{"domain":[0,12]},"axis":{"values":[0,2,4,6,8,10,12],"title":"Signature Score","labelPadding":8,"titlePadding":1}},
"color":{"field":"cond","type":"nominal","scale":{"domain":["CTRL","PE"],"range":["#f0b3cd","#9e4888"]},
"legend":{"orient":"top-left","direction":"horizontal","title":null,"symbolType":"square","symbolSize":200,"symbolStrokeWidth":0,"symbolOpacity":1,"labelFontSize":13,"labelColor":"#222","labelOffset":3,"columnPadding":3,"offset":5,"padding":0}}}},
{"mark":{"type":"circle","size":30,"color":"#555","opacity":1},
"encoding":{"y":{"field":"v","type":"quantitative"},"xOffset":{"field":"off","type":"quantitative","scale":{"domain":[-30.25,30.25],"range":[0,60.5]}}}}
]},
{"width":256,"height":251,
"title":{"text":"b","frame":"group","dx":-31,"offset":0},
"data":{"name":"b"},
"encoding":{"x":{"field":"g","type":"nominal","sort":["SCT-CTRL-Early","SCT-PE-Early","SCT-CTRL-Late","SCT-PE-Late","EVT-CTRL-Early","EVT-PE-Early","EVT-CTRL-Late","EVT-PE-Late"],"scale":{"paddingInner":0,"paddingOuter":0},
"axis":{"title":null,"labelAngle":-90,"labelPadding":5,"labelColor":"#333"}}},
"layer":[
{"mark":{"type":"boxplot","extent":1.5,"outliers":false,"size":26,"ticks":{"size":13,"color":"#666"},"rule":{"color":"#666"},"median":{"color":"#777"},"box":{"stroke":"#888","strokeWidth":1}},
"encoding":{"y":{"field":"v","type":"quantitative","scale":{"domain":[0,16]},"axis":{"values":[0,2,4,6,8,10,12,14,16],"title":"Signature Score","labelPadding":3,"titlePadding":2}},
"color":{"field":"cond","type":"nominal","scale":{"domain":["CTRL","PE"],"range":["#f0b3cd","#9e4888"]},
"legend":{"orient":"top-left","direction":"horizontal","title":null,"symbolType":"square","symbolSize":200,"symbolStrokeWidth":0,"symbolOpacity":1,"labelFontSize":13,"labelColor":"#222","labelOffset":3,"columnPadding":3,"offset":5,"padding":0}}}},
{"mark":{"type":"circle","size":9,"color":"#555","opacity":1},
"encoding":{"y":{"field":"v","type":"quantitative"}}}
]}
],"columns":2,"align":"none","spacing":55,"resolve":{"legend":{"color":"independent"}}},
{"concat":[
{"concat":[
{"width":643,"height":5,"view":{"stroke":null},
"title":{"text":"c","orient":"left","angle":0,"align":"right","baseline":"middle","anchor":"middle","offset":19},
"data":{"name":"chead"},
"transform":[{"calculate":"(datum.start + datum.end) / 2","as":"mid"}],
"layer":[
{"mark":{"type":"rect","color":"#1f4e6e"},"encoding":{"x":{"field":"start","type":"quantitative","scale":{"domain":[-0.5,45.5],"range":[-15,643],"nice":false,"zero":false},"axis":null},"x2":{"field":"end"}}},
{"mark":{"type":"text","fontSize":7,"color":"#333","baseline":"bottom","dy":-6},"encoding":{"x":{"field":"mid","type":"quantitative"},"text":{"field":"label"}}}
]},
{"width":643,"height":122,
"data":{"name":"c"},
"encoding":{
"x":{"field":"g","type":"nominal","sort":["AIF1L","BCAR4","CERCAM","CLDN19","COL17A1","EGLN3","GDPD3","HLA-G","IL18BP","INHA","ITGA5","LAIR2","LVRN","LY6D","MMP11","NOTUM","PAPPA2","PYCR1","RRAD","SLC8A2","UPK1B","ARG2","ATP10D","CSH2","CYP19A1","DEPDC1B","ERVFRD-1","FAR2","GH2","KISS1","KMO","LGALS13","LGALS14","LGALS16","MUC15","PSG11","PSG3","PSG4","PSG6","PSG9","PTPN21","RHOBTB1","SERPINB2","SLC13A4","TACC2","PSG2"],"scale":{"paddingInner":0,"paddingOuter":0,"range":[-15,643]},"axis":{"title":null,"labelAngle":-90,"labelFontSize":6.5,"labelPadding":6}},
"y":{"field":"c","type":"nominal","sort":["EB","EVT","FB1","FB2","FB3","HC","SCT","VCT","VEC"],"scale":{"paddingInner":0,"paddingOuter":0.43,"align":0.92},"axis":{"title":null,"labelFontSize":7,"labelOffset":-4,"labelPadding":23}}},
"layer":[
{"mark":{"type":"point","shape":"M-1,0L1,0","size":110,"filled":false,"color":"#888","strokeWidth":1,"opacity":1}},
{"transform":[{"filter":"datum.h > 0"}],"mark":{"type":"point","filled":false,"size":576,"color":"#666","strokeWidth":1,"opacity":1},
"encoding":{"shape":{"field":"h","type":"ordinal","scale":{"domain":[1,2,3,4],"range":["M0,0L0,-0.25","M0,0L0,-0.5","M0,0L0,-0.75","M0,0L0,-1"]},"legend":null}}},
{"transform":[{"filter":"datum.b > 0"}],"mark":{"type":"point","filled":true,"color":"#1f4a66","opacity":1,"strokeWidth":0,"shape":"M0,-1.6C0.4,-1.2 1,-0.85 1,-0.55C1,-0.25 0.45,-0.05 0,0C-0.45,-0.05 -1,-0.25 -1,-0.55C-1,-0.85 -0.4,-1.2 0,-1.6Z"},
"encoding":{"size":{"field":"b","type":"quantitative","scale":{"type":"pow","exponent":2,"domain":[0,3],"range":[0,144]},"legend":null}}}
]}
],"columns":1,"align":"none","spacing":0},
{"concat":[
{"width":642,"height":5,"view":{"stroke":null},
"title":{"text":"d","orient":"left","angle":0,"align":"right","baseline":"middle","anchor":"middle","offset":30},
"data":{"name":"dhead"},
"transform":[{"calculate":"(datum.start + datum.end) / 2","as":"mid"}],
"layer":[
{"mark":{"type":"rect","color":"#1f4e6e"},"encoding":{"x":{"field":"start","type":"quantitative","scale":{"domain":[-0.5,47.5],"nice":false,"zero":false},"axis":null},"x2":{"field":"end"}}},
{"mark":{"type":"text","fontSize":7,"color":"#333","baseline":"bottom","dy":-6},"encoding":{"x":{"field":"mid","type":"quantitative"},"text":{"field":"label"}}}
]},
{"width":642,"height":243,
"data":{"name":"d"},
"encoding":{
"x":{"field":"g","type":"nominal","sort":["AF127936.7","AIF1L","BCAR4","CERCAM","CLDN19","COL17A1","EGLN3","GDPD3","HLA-G","IL18BP","INHA","ITGA5","LAIR2","LVRN","LY6D","MMP11","NOTUM","PAPPA2","PYCR1","RRAD","SLC8A2","UPK1B","ARG2","ATP10D","CSH2","CSHL1","CYP19A1","DEPDC1B","ERVFRD-1","FAR2","GH2","KISS1","KMO","LGALS13","LGALS14","LGALS16","MUC15","PSG1","PSG11","PSG3","PSG4","PSG6","PSG9","PTPN21","RHOBTB1","SERPINB2","SLC13A4","TACC2"],"scale":{"paddingInner":0,"paddingOuter":0},"axis":{"title":null,"labelAngle":-90,"labelFontSize":6.5,"labelPadding":6}},
"y":{"field":"c","type":"nominal","sort":["DC","EVT","Endo","Epi","Granulocytes","HB","ILC3","MO","NK","Plasma","SCT","Tcells","VCT","dM","dNK p","decid-NK","decid-P","decid-Stromal","fetal-Fibroblast"],"scale":{"paddingInner":0,"paddingOuter":0.53,"align":0.925},"axis":{"title":null,"labelFontSize":6.2,"labelOffset":-4,"labelPadding":2}}},
"layer":[
{"mark":{"type":"point","shape":"M-1,0L1,0","size":100,"filled":false,"color":"#888","strokeWidth":1,"opacity":1}},
{"transform":[{"filter":"datum.h > 0"}],"mark":{"type":"point","filled":false,"size":576,"color":"#666","strokeWidth":1,"opacity":1},
"encoding":{"shape":{"field":"h","type":"ordinal","scale":{"domain":[1,2,3,4],"range":["M0,0L0,-0.25","M0,0L0,-0.5","M0,0L0,-0.75","M0,0L0,-1"]},"legend":null}}},
{"transform":[{"filter":"datum.b > 0"}],"mark":{"type":"point","filled":true,"color":"#1f4a66","opacity":1,"strokeWidth":0,"shape":"M0,-1.6C0.4,-1.2 1,-0.85 1,-0.55C1,-0.25 0.45,-0.05 0,0C-0.45,-0.05 -1,-0.25 -1,-0.55C-1,-0.85 -0.4,-1.2 0,-1.6Z"},
"encoding":{"size":{"field":"b","type":"quantitative","scale":{"type":"pow","exponent":2,"domain":[0,3],"range":[0,144]},"legend":null}}}
]}
],"columns":1,"align":"none","spacing":0}
],"columns":1,"align":"none","spacing":22}
],"columns":1,"align":"none","spacing":37}
